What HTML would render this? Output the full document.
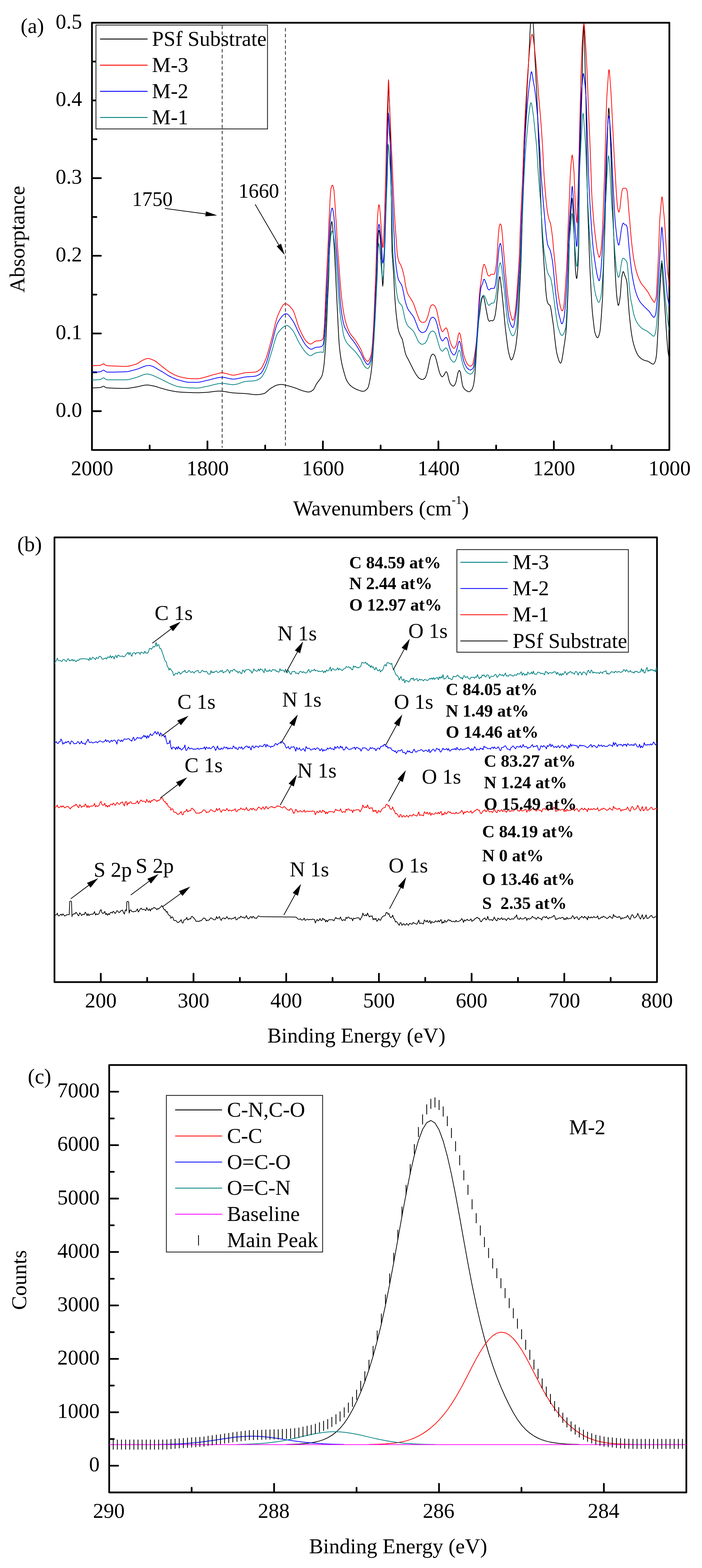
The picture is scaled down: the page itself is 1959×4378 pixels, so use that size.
<!DOCTYPE html>
<html lang="en">
<head>
<meta charset="utf-8">
<title>FTIR and XPS spectra</title>
<style>
html,body{margin:0;padding:0;background:#fff;}
svg{display:block;}
text{font-family:"Liberation Serif",serif;fill:#000;}
</style>
</head>
<body>
<svg width="1959" height="4378" viewBox="0 0 1959 4378">
<rect x="0" y="0" width="1959" height="4378" fill="#fff"/>
<g id="chartA">
<clipPath id="clipA"><rect x="256.6" y="63.5" width="1611.3000000000002" height="1192.9"/></clipPath>
<line x1="620" y1="63.5" x2="620" y2="1250" stroke="#000" stroke-width="1.8" stroke-dasharray="9.7 6.6" stroke-dashoffset="-8"/>
<line x1="796.5" y1="73" x2="796.5" y2="1250" stroke="#000" stroke-width="1.8" stroke-dasharray="9.7 6.6" stroke-dashoffset="-5.1"/>
<text x="257.1" y="1326.5" font-size="59" text-anchor="middle" >2000</text>
<line x1="417.7" y1="1255.8" x2="417.7" y2="1243.9" stroke="#000" stroke-width="4.8" stroke-linecap="round"/>
<line x1="578.9" y1="1255.8" x2="578.9" y2="1232.4" stroke="#000" stroke-width="4.8" stroke-linecap="round"/>
<text x="579.4" y="1326.5" font-size="59" text-anchor="middle" >1800</text>
<line x1="740" y1="1255.8" x2="740" y2="1243.9" stroke="#000" stroke-width="4.8" stroke-linecap="round"/>
<line x1="901.1" y1="1255.8" x2="901.1" y2="1232.4" stroke="#000" stroke-width="4.8" stroke-linecap="round"/>
<text x="901.6" y="1326.5" font-size="59" text-anchor="middle" >1600</text>
<line x1="1062.2" y1="1255.8" x2="1062.2" y2="1243.9" stroke="#000" stroke-width="4.8" stroke-linecap="round"/>
<line x1="1223.4" y1="1255.8" x2="1223.4" y2="1232.4" stroke="#000" stroke-width="4.8" stroke-linecap="round"/>
<text x="1223.9" y="1326.5" font-size="59" text-anchor="middle" >1400</text>
<line x1="1384.5" y1="1255.8" x2="1384.5" y2="1243.9" stroke="#000" stroke-width="4.8" stroke-linecap="round"/>
<line x1="1545.6" y1="1255.8" x2="1545.6" y2="1232.4" stroke="#000" stroke-width="4.8" stroke-linecap="round"/>
<text x="1546.1" y="1326.5" font-size="59" text-anchor="middle" >1200</text>
<line x1="1706.8" y1="1255.8" x2="1706.8" y2="1243.9" stroke="#000" stroke-width="4.8" stroke-linecap="round"/>
<text x="1868.4" y="1326.5" font-size="59" text-anchor="middle" >1000</text>
<line x1="257.2" y1="1148" x2="281.6" y2="1148" stroke="#000" stroke-width="4.8" stroke-linecap="round"/>
<text x="229" y="1164" font-size="59" text-anchor="end" >0.0</text>
<line x1="257.2" y1="1039.5" x2="269.1" y2="1039.5" stroke="#000" stroke-width="4.8" stroke-linecap="round"/>
<line x1="257.2" y1="931.1" x2="281.6" y2="931.1" stroke="#000" stroke-width="4.8" stroke-linecap="round"/>
<text x="229" y="947.1" font-size="59" text-anchor="end" >0.1</text>
<line x1="257.2" y1="822.6" x2="269.1" y2="822.6" stroke="#000" stroke-width="4.8" stroke-linecap="round"/>
<line x1="257.2" y1="714.2" x2="281.6" y2="714.2" stroke="#000" stroke-width="4.8" stroke-linecap="round"/>
<text x="229" y="730.2" font-size="59" text-anchor="end" >0.2</text>
<line x1="257.2" y1="605.8" x2="269.1" y2="605.8" stroke="#000" stroke-width="4.8" stroke-linecap="round"/>
<line x1="257.2" y1="497.3" x2="281.6" y2="497.3" stroke="#000" stroke-width="4.8" stroke-linecap="round"/>
<text x="229" y="513.3" font-size="59" text-anchor="end" >0.3</text>
<line x1="257.2" y1="388.8" x2="269.1" y2="388.8" stroke="#000" stroke-width="4.8" stroke-linecap="round"/>
<line x1="257.2" y1="280.4" x2="281.6" y2="280.4" stroke="#000" stroke-width="4.8" stroke-linecap="round"/>
<text x="229" y="296.4" font-size="59" text-anchor="end" >0.4</text>
<line x1="257.2" y1="171.9" x2="269.1" y2="171.9" stroke="#000" stroke-width="4.8" stroke-linecap="round"/>
<text x="229" y="79.5" font-size="59" text-anchor="end" >0.5</text>
<rect x="256.6" y="63.5" width="1611.3000000000002" height="1192.9" fill="none" stroke="#000" stroke-width="4.8" stroke-linejoin="round"/>
<g clip-path="url(#clipA)">
<polyline points="256,1083 257,1083 258,1083 259,1083 260,1083 261,1083 262,1082.9 263,1082.9 264,1082.9 265,1082.9 266,1082.8 267,1082.8 268,1082.8 269,1082.7 270,1082.7 271,1082.6 272,1082.6 273,1082.5 274,1082.4 275,1082.4 276,1082.3 277,1082.2 278,1082.2 279,1082.1 280,1082 281,1081.8 282,1081.5 283,1081 284,1080.4 285,1079.9 286,1079.4 287,1078.9 288,1078.6 289,1078.5 290,1078.7 291,1079.2 292,1079.9 293,1080.7 294,1081.5 295,1082.1 296,1082.5 297,1082.7 298,1082.8 299,1082.9 300,1083 301,1083.1 302,1083.1 303,1083.2 304,1083.2 305,1083.3 306,1083.3 307,1083.4 308,1083.4 309,1083.5 310,1083.5 311,1083.6 312,1083.6 313,1083.7 314,1083.7 315,1083.8 316,1083.8 317,1083.8 318,1083.9 319,1083.9 320,1083.9 321,1084 322,1084 323,1084.1 324,1084.1 325,1084.1 326,1084.1 327,1084.2 328,1084.2 329,1084.2 330,1084.3 331,1084.3 332,1084.3 333,1084.3 334,1084.3 335,1084.4 336,1084.4 337,1084.4 338,1084.4 339,1084.4 340,1084.4 341,1084.4 342,1084.5 343,1084.5 344,1084.5 345,1084.5 346,1084.5 347,1084.5 348,1084.5 349,1084.5 350,1084.5 351,1084.5 352,1084.5 353,1084.4 354,1084.4 355,1084.3 356,1084.2 357,1084.1 358,1084 359,1083.9 360,1083.8 361,1083.7 362,1083.5 363,1083.4 364,1083.2 365,1083.1 366,1082.9 367,1082.7 368,1082.6 369,1082.4 370,1082.2 371,1082 372,1081.9 373,1081.7 374,1081.5 375,1081.3 376,1081.2 377,1081 378,1080.8 379,1080.7 380,1080.5 381,1080.3 382,1080.2 383,1080 384,1079.8 385,1079.6 386,1079.3 387,1079.1 388,1078.9 389,1078.6 390,1078.4 391,1078.1 392,1077.9 393,1077.7 394,1077.4 395,1077.2 396,1076.9 397,1076.7 398,1076.5 399,1076.3 400,1076.1 401,1075.9 402,1075.7 403,1075.6 404,1075.4 405,1075.3 406,1075.2 407,1075.1 408,1075.1 409,1075 410,1075 411,1075 412,1075 413,1075.1 414,1075.2 415,1075.3 416,1075.4 417,1075.5 418,1075.7 419,1075.8 420,1076 421,1076.2 422,1076.4 423,1076.6 424,1076.8 425,1077 426,1077.2 427,1077.4 428,1077.6 429,1077.8 430,1078 431,1078.2 432,1078.4 433,1078.7 434,1079 435,1079.2 436,1079.5 437,1079.8 438,1080.2 439,1080.5 440,1080.8 441,1081.1 442,1081.5 443,1081.8 444,1082.1 445,1082.5 446,1082.8 447,1083.1 448,1083.4 449,1083.7 450,1084 451,1084.3 452,1084.6 453,1084.8 454,1085.1 455,1085.4 456,1085.7 457,1086 458,1086.3 459,1086.5 460,1086.8 461,1087.1 462,1087.4 463,1087.6 464,1087.9 465,1088.2 466,1088.4 467,1088.7 468,1088.9 469,1089.2 470,1089.4 471,1089.6 472,1089.9 473,1090.1 474,1090.3 475,1090.5 476,1090.7 477,1090.9 478,1091.1 479,1091.3 480,1091.5 481,1091.7 482,1091.9 483,1092.1 484,1092.3 485,1092.4 486,1092.6 487,1092.8 488,1093 489,1093.1 490,1093.3 491,1093.4 492,1093.6 493,1093.7 494,1093.9 495,1094 496,1094.1 497,1094.2 498,1094.3 499,1094.4 500,1094.5 501,1094.6 502,1094.6 503,1094.7 504,1094.8 505,1094.9 506,1094.9 507,1095 508,1095 509,1095.1 510,1095.2 511,1095.2 512,1095.3 513,1095.3 514,1095.4 515,1095.4 516,1095.5 517,1095.5 518,1095.6 519,1095.6 520,1095.6 521,1095.7 522,1095.7 523,1095.8 524,1095.8 525,1095.8 526,1095.9 527,1095.9 528,1095.9 529,1096 530,1096 531,1096 532,1096.1 533,1096.1 534,1096.1 535,1096.2 536,1096.2 537,1096.2 538,1096.3 539,1096.3 540,1096.3 541,1096.4 542,1096.4 543,1096.4 544,1096.4 545,1096.5 546,1096.5 547,1096.5 548,1096.5 549,1096.5 550,1096.5 551,1096.5 552,1096.5 553,1096.5 554,1096.5 555,1096.4 556,1096.4 557,1096.4 558,1096.4 559,1096.3 560,1096.3 561,1096.3 562,1096.2 563,1096.2 564,1096.1 565,1096.1 566,1096 567,1096 568,1095.9 569,1095.9 570,1095.8 571,1095.8 572,1095.7 573,1095.7 574,1095.6 575,1095.6 576,1095.5 577,1095.4 578,1095.4 579,1095.3 580,1095.2 581,1095.1 582,1095 583,1094.9 584,1094.8 585,1094.7 586,1094.5 587,1094.4 588,1094.3 589,1094.1 590,1094 591,1093.9 592,1093.7 593,1093.6 594,1093.4 595,1093.3 596,1093.2 597,1093 598,1092.9 599,1092.8 600,1092.7 601,1092.6 602,1092.5 603,1092.4 604,1092.3 605,1092.2 606,1092.2 607,1092.1 608,1092.1 609,1092 610,1092 611,1092 612,1092 613,1092 614,1092.1 615,1092.1 616,1092.2 617,1092.3 618,1092.3 619,1092.4 620,1092.5 621,1092.6 622,1092.7 623,1092.8 624,1092.9 625,1093 626,1093.2 627,1093.3 628,1093.4 629,1093.6 630,1093.8 631,1093.9 632,1094.1 633,1094.3 634,1094.5 635,1094.6 636,1094.8 637,1095 638,1095.2 639,1095.3 640,1095.5 641,1095.7 642,1095.8 643,1096 644,1096.2 645,1096.3 646,1096.4 647,1096.6 648,1096.7 649,1096.8 650,1096.9 651,1097 652,1097.1 653,1097.2 654,1097.2 655,1097.3 656,1097.4 657,1097.4 658,1097.5 659,1097.6 660,1097.6 661,1097.7 662,1097.7 663,1097.8 664,1097.8 665,1097.9 666,1097.9 667,1098 668,1098 669,1098.1 670,1098.1 671,1098.2 672,1098.2 673,1098.3 674,1098.3 675,1098.3 676,1098.4 677,1098.4 678,1098.5 679,1098.6 680,1098.6 681,1098.7 682,1098.7 683,1098.8 684,1098.9 685,1098.9 686,1099 687,1099.1 688,1099.2 689,1099.3 690,1099.4 691,1099.5 692,1099.6 693,1099.7 694,1099.8 695,1100 696,1100.1 697,1100.2 698,1100.4 699,1100.5 700,1100.6 701,1100.8 702,1100.9 703,1101 704,1101.2 705,1101.3 706,1101.4 707,1101.5 708,1101.6 709,1101.7 710,1101.8 711,1101.8 712,1101.9 713,1101.9 714,1102 715,1102 716,1102 717,1102 718,1102 719,1101.9 720,1101.8 721,1101.8 722,1101.7 723,1101.6 724,1101.4 725,1101.3 726,1101.1 727,1101 728,1100.8 729,1100.6 730,1100.4 731,1100.2 732,1100 733,1099.7 734,1099.5 735,1099.2 736,1099 737,1098.7 738,1098.3 739,1097.8 740,1097.2 741,1096.5 742,1095.8 743,1095 744,1094.1 745,1093.2 746,1092.3 747,1091.4 748,1090.5 749,1089.5 750,1088.6 751,1087.7 752,1086.9 753,1086.1 754,1085.3 755,1084.6 756,1084 757,1083.4 758,1082.8 759,1082.2 760,1081.6 761,1081 762,1080.4 763,1079.8 764,1079.3 765,1078.7 766,1078.2 767,1077.7 768,1077.2 769,1076.7 770,1076.3 771,1075.9 772,1075.5 773,1075.2 774,1074.9 775,1074.7 776,1074.5 777,1074.3 778,1074.2 779,1074.1 780,1073.9 781,1073.8 782,1073.7 783,1073.6 784,1073.6 785,1073.5 786,1073.5 787,1073.5 788,1073.6 789,1073.7 790,1073.8 791,1074 792,1074.2 793,1074.4 794,1074.7 795,1074.9 796,1075.2 797,1075.5 798,1075.7 799,1076 800,1076.3 801,1076.5 802,1076.7 803,1077 804,1077.2 805,1077.5 806,1077.8 807,1078 808,1078.3 809,1078.6 810,1078.9 811,1079.2 812,1079.5 813,1079.8 814,1080.1 815,1080.4 816,1080.7 817,1081 818,1081.4 819,1081.7 820,1082 821,1082.3 822,1082.7 823,1083 824,1083.3 825,1083.7 826,1084 827,1084.3 828,1084.7 829,1085.1 830,1085.5 831,1085.9 832,1086.3 833,1086.7 834,1087.1 835,1087.5 836,1087.9 837,1088.4 838,1088.8 839,1089.2 840,1089.5 841,1089.9 842,1090.3 843,1090.6 844,1090.9 845,1091.2 846,1091.5 847,1091.8 848,1092 849,1092.3 850,1092.6 851,1092.8 852,1093.1 853,1093.4 854,1093.6 855,1093.8 856,1094 857,1094.2 858,1094.3 859,1094.4 860,1094.5 861,1094.5 862,1094.5 863,1094.3 864,1094.1 865,1093.8 866,1093.4 867,1093 868,1092.5 869,1092 870,1091.4 871,1090.7 872,1090.1 873,1089.4 874,1088.6 875,1087.4 876,1086 877,1084.2 878,1082.3 879,1080.2 880,1078.1 881,1076 882,1074.1 883,1072.3 884,1070.8 885,1069.4 886,1068.1 887,1066.8 888,1065.5 889,1064.3 890,1062.9 891,1061.5 892,1060.1 893,1058.7 894,1057.4 895,1055.9 896,1054.3 897,1052.4 898,1050.2 899,1047.6 900,1043.9 901,1039.3 902,1033.8 903,1027.4 904,1020.1 905,1010.6 906,999 907,985.8 908,971.4 909,956.1 910,938 911,917.5 912,893.2 913,865.2 914,840.5 915,821.3 916,803.7 917,783.4 918,753.7 919,711.2 920,687.4 921,671.6 922,655 923,639.1 924,627.9 925,620.5 926,618.5 927,622.8 928,630 929,641.2 930,655 931,667.1 932,680 933,696 934,715.1 935,735.8 936,756 937,776 938,796 939,816 940,836 941,856.2 942,876.7 943,897.1 944,917 945,937.4 946,954 947,965.8 948,976 949,984.7 950,992.3 951,999 952,1005 953,1010.4 954,1015.4 955,1020 956,1024.3 957,1028.3 958,1032.1 959,1035.8 960,1039.5 961,1043.1 962,1046.5 963,1049.8 964,1053 965,1055.9 966,1058.6 967,1061 968,1063.1 969,1064.9 970,1066.5 971,1068 972,1069.5 973,1070.8 974,1072.1 975,1073.3 976,1074.4 977,1075.5 978,1076.4 979,1077.3 980,1078.2 981,1079 982,1079.8 983,1080.5 984,1081.2 985,1081.9 986,1082.5 987,1083.1 988,1083.7 989,1084.3 990,1084.8 991,1085.3 992,1085.8 993,1086.3 994,1086.7 995,1087.1 996,1087.5 997,1087.9 998,1088.3 999,1088.7 1000,1089.1 1001,1089.5 1002,1089.9 1003,1090.2 1004,1090.6 1005,1090.9 1006,1091.2 1007,1091.5 1008,1091.8 1009,1092 1010,1092.2 1011,1092.3 1012,1092.4 1013,1092.5 1014,1092.5 1015,1092.4 1016,1092.1 1017,1091.7 1018,1091.3 1019,1090.7 1020,1090 1021,1089.2 1022,1088.3 1023,1087.4 1024,1086.3 1025,1085.2 1026,1084 1027,1082.2 1028,1079.5 1029,1076 1030,1071.9 1031,1067.2 1032,1062.1 1033,1056.7 1034,1051.1 1035,1044.6 1036,1036.9 1037,1028.4 1038,1019 1039,1008.7 1040,996.9 1041,983.6 1042,969.1 1043,953.6 1044,937.3 1045,920.5 1046,903.2 1047,884.4 1048,864.3 1049,843.1 1050,821 1051,800.5 1052,780.5 1053,755.7 1054,721 1055,665.7 1056,649.9 1057,643.4 1058,643.2 1059,648 1060,655 1061,665.5 1062,680 1063,698.6 1064,720 1065,743 1066,765 1067,786.8 1068,799 1069,791.4 1070,774.4 1071,754.4 1072,726.6 1073,696 1074,665.9 1075,634.1 1076,600 1077,562.8 1078,522.7 1079,480 1080,433.3 1081,384.1 1082,333.1 1083,273 1084,234.5 1085,243.5 1086,270 1087,288.1 1088,319.9 1089,381.3 1090,458.8 1091,526.7 1092,555 1093,641.9 1094,702 1095,718.3 1096,730 1097,744.4 1098,759 1099,775.5 1100,796.3 1101,816.7 1102,832.8 1103,847.1 1104,859.9 1105,871 1106,880.2 1107,888.2 1108,896 1109,904.5 1110,912 1111,917.7 1112,921.9 1113,925.5 1114,928.6 1115,931.3 1116,933.9 1117,936.3 1118,938.6 1119,940.5 1120,942.2 1121,944 1122,946.2 1123,949.1 1124,953.1 1125,957.8 1126,962.9 1127,967.8 1128,972.2 1129,976.6 1130,980.9 1131,985 1132,988.5 1133,991.3 1134,993.7 1135,995.8 1136,997.7 1137,999.5 1138,1001.3 1139,1003.1 1140,1005 1141,1007 1142,1009 1143,1011 1144,1013 1145,1015 1146,1017 1147,1019 1148,1021 1149,1023 1150,1025.1 1151,1027.2 1152,1029.2 1153,1031.2 1154,1033.1 1155,1035 1156,1036.8 1157,1038.6 1158,1040.4 1159,1042.1 1160,1043.7 1161,1045.3 1162,1046.8 1163,1048.2 1164,1049.6 1165,1051 1166,1052.3 1167,1053.5 1168,1054.6 1169,1055.6 1170,1056.2 1171,1056.8 1172,1057.4 1173,1057.9 1174,1058.3 1175,1058.7 1176,1059.1 1177,1059.3 1178,1059.5 1179,1059.5 1180,1059.3 1181,1059 1182,1058.5 1183,1057.9 1184,1057.1 1185,1056.2 1186,1055.3 1187,1054 1188,1052 1189,1049.4 1190,1046.5 1191,1043.3 1192,1039.8 1193,1035.6 1194,1030.9 1195,1026 1196,1021.2 1197,1016.4 1198,1011.3 1199,1006.5 1200,1002.5 1201,999.2 1202,996.2 1203,993.8 1204,992.2 1205,990.9 1206,989.8 1207,989 1208,988.8 1209,988.9 1210,989.5 1211,990.4 1212,991.5 1213,992.7 1214,994.1 1215,996.5 1216,999.7 1217,1003.3 1218,1006.8 1219,1010.6 1220,1014.8 1221,1019 1222,1023.1 1223,1026.9 1224,1030.8 1225,1034.7 1226,1038.3 1227,1041.3 1228,1043.6 1229,1045.7 1230,1047.8 1231,1049.6 1232,1050.9 1233,1051.8 1234,1052 1235,1051.6 1236,1050.7 1237,1049.6 1238,1048.4 1239,1047.2 1240,1045.6 1241,1043.7 1242,1041.6 1243,1039.8 1244,1038.5 1245,1038 1246,1038.6 1247,1040 1248,1042.1 1249,1044.4 1250,1048.3 1251,1053.4 1252,1058.1 1253,1061.6 1254,1064.7 1255,1067.5 1256,1069.9 1257,1071.8 1258,1073.1 1259,1074.2 1260,1075.2 1261,1076.1 1262,1076.9 1263,1077.5 1264,1077.9 1265,1078 1266,1077.7 1267,1076.9 1268,1075.8 1269,1074.2 1270,1072.5 1271,1070.5 1272,1068 1273,1064.1 1274,1059.5 1275,1055 1276,1050.3 1277,1045.3 1278,1040.9 1279,1038.2 1280,1036.3 1281,1034.9 1282,1034.5 1283,1035.5 1284,1037.5 1285,1040 1286,1045.1 1287,1052.8 1288,1060 1289,1066.2 1290,1072.2 1291,1076.7 1292,1079.4 1293,1081.5 1294,1083.3 1295,1084.7 1296,1086 1297,1087.1 1298,1088 1299,1088.9 1300,1089.7 1301,1090.4 1302,1091 1303,1091.5 1304,1092.1 1305,1092.6 1306,1093.1 1307,1093.5 1308,1093.7 1309,1093.7 1310,1093.5 1311,1093.1 1312,1092.5 1313,1091.8 1314,1090.9 1315,1090 1316,1088.8 1317,1087.2 1318,1085.2 1319,1082.8 1320,1080 1321,1076.3 1322,1071.4 1323,1065.3 1324,1058 1325,1047.9 1326,1035.7 1327,1022.1 1328,1006.6 1329,991.2 1330,976.2 1331,961.2 1332,945.9 1333,930.5 1334,916.8 1335,905 1336,895.6 1337,887.8 1338,880.6 1339,873 1340,864.3 1341,855.6 1342,848 1343,842.4 1344,837.6 1345,833.6 1346,830.6 1347,828.4 1348,827.1 1349,827.8 1350,830.5 1351,834.1 1352,838.1 1353,843.4 1354,849.3 1355,855 1356,860.4 1357,865.8 1358,871.2 1359,876.3 1360,881.7 1361,886.9 1362,891.1 1363,893.6 1364,895.6 1365,896.8 1366,896.9 1367,896.5 1368,895.8 1369,895.3 1370,895 1371,895.1 1372,895.4 1373,895.7 1374,895.7 1375,895.5 1376,894.9 1377,894.2 1378,893.1 1379,890.8 1380,887.5 1381,883.5 1382,878.9 1383,872.6 1384,865.3 1385,857.5 1386,848.6 1387,838.3 1388,827.8 1389,818 1390,807.9 1391,796.8 1392,786.2 1393,777.7 1394,772.7 1395,772.7 1396,777.5 1397,785.3 1398,793.9 1399,802.1 1400,811.3 1401,820.7 1402,830.4 1403,840.2 1404,850.3 1405,860.5 1406,871.2 1407,882.3 1408,893.4 1409,904.1 1410,914 1411,922.9 1412,931.1 1413,938.9 1414,946.9 1415,955 1416,962.8 1417,970 1418,976.4 1419,981.8 1420,986 1421,990 1422,993.9 1423,997.5 1424,1000.5 1425,1002.9 1426,1004.4 1427,1005 1428,1004.6 1429,1003.6 1430,1001.9 1431,999.7 1432,997 1433,993.9 1434,990.5 1435,986.8 1436,983 1437,979 1438,974.4 1439,968.8 1440,962.1 1441,954.4 1442,945.7 1443,936 1444,925.5 1445,914 1446,899.4 1447,880.5 1448,859.1 1449,837 1450,815.9 1451,796 1452,775.7 1453,753.8 1454,728.7 1455,698 1456,666.4 1457,633.8 1458,600 1459,563.6 1460,525.6 1461,490.1 1462,459.2 1463,430.6 1464,403.8 1465,378.4 1466,353.9 1467,330.5 1468,308 1469,286.6 1470,266 1471,246.6 1472,228.2 1473,210.4 1474,192.7 1475,174.5 1476,155.1 1477,134.4 1478,113.2 1479,92.4 1480,72.9 1481,54.8 1482,34.7 1483,17.3 1484,8.3 1485,12.2 1486,26.2 1487,45.2 1488,64 1489,82.1 1490,102 1491,123 1492,144.3 1493,165 1494,184.8 1495,204.2 1496,223.8 1497,244.2 1498,266 1499,290.4 1500,316 1501,341 1502,366.1 1503,391 1504,415.3 1505,439.1 1506,463.7 1507,490.3 1508,519.5 1509,551.3 1510,582 1511,609 1512,633.5 1513,654.6 1514,673 1515,689.8 1516,705.9 1517,720.8 1518,735.5 1519,750.6 1520,765.7 1521,780.4 1522,795.8 1523,809.8 1524,820.2 1525,828.7 1526,835.9 1527,841.2 1528,844.4 1529,846.6 1530,848.4 1531,849.7 1532,850.7 1533,851.3 1534,851.9 1535,853 1536,855.8 1537,860.5 1538,865.7 1539,872 1540,879.1 1541,886.3 1542,893 1543,899.5 1544,906.3 1545,914 1546,923.7 1547,934.3 1548,943.3 1549,951.9 1550,960.2 1551,968.2 1552,975.4 1553,981.7 1554,986.9 1555,990.9 1556,994.6 1557,998.3 1558,1001.7 1559,1004.8 1560,1007.6 1561,1010 1562,1011.9 1563,1013.2 1564,1013.9 1565,1013.8 1566,1012.2 1567,1009.2 1568,1005 1569,999.8 1570,994 1571,987.5 1572,980.8 1573,974 1574,967.2 1575,960.8 1576,954.3 1577,947.3 1578,939.4 1579,930.4 1580,919.9 1581,906.9 1582,888.2 1583,865.7 1584,842.1 1585,817.3 1586,789 1587,753.6 1588,709.5 1589,673.9 1590,643.8 1591,622.2 1592,605.8 1593,591.9 1594,578.5 1595,563.2 1596,553.3 1597,556.7 1598,570.3 1599,585.9 1600,604.6 1601,626.4 1602,650 1603,676.4 1604,705.5 1605,737.8 1606,754.5 1607,765.7 1608,773.9 1609,777.8 1610,775.7 1611,767 1612,754.7 1613,741 1614,722 1615,688.4 1616,600 1617,482 1618,444 1619,416 1620,378.1 1621,341 1622,311.3 1623,282.8 1624,245.1 1625,194.8 1626,150 1627,112.5 1628,81.4 1629,73.3 1630,89.8 1631,117.8 1632,153.6 1633,195.5 1634,233.2 1635,266 1636,345.8 1637,419.1 1638,482 1639,535.4 1640,574.7 1641,604 1642,632 1643,662.8 1644,692.5 1645,718.7 1646,742.4 1647,763.9 1648,783.8 1649,802.7 1650,822.1 1651,840.8 1652,857.2 1653,869.9 1654,880.4 1655,889.5 1656,897.9 1657,906.5 1658,915.3 1659,922.9 1660,928 1661,931.3 1662,934.3 1663,936.9 1664,939.2 1665,941 1666,942.2 1667,942.9 1668,942.9 1669,941.9 1670,940.2 1671,937.7 1672,934.6 1673,931 1674,926.8 1675,919.4 1676,908.8 1677,896.7 1678,883.9 1679,868.6 1680,853 1681,839.5 1682,821 1683,787.9 1684,754.3 1685,724.2 1686,694.5 1687,665.1 1688,635.8 1689,603.4 1690,565.7 1691,525.3 1692,482.7 1693,445 1694,410.8 1695,381.6 1696,351.6 1697,324.5 1698,306.1 1699,301.7 1700,310.5 1701,328.3 1702,351.7 1703,377.3 1704,402.2 1705,431.6 1706,463.4 1707,493.8 1708,524.2 1709,552.9 1710,579 1711,605.1 1712,634.4 1713,665.6 1714,693.5 1715,718.6 1716,741.7 1717,762 1718,780.7 1719,798.3 1720,813.8 1721,825.7 1722,834.4 1723,842.4 1724,848.8 1725,852.5 1726,852.7 1727,850.1 1728,845.6 1729,839.7 1730,832.9 1731,825.5 1732,813.4 1733,798.3 1734,784 1735,774.5 1736,768.8 1737,763.8 1738,760.1 1739,758.3 1740,758.8 1741,761 1742,764 1743,767.3 1744,770.1 1745,772.5 1746,775 1747,777.8 1748,781.3 1749,785.8 1750,792 1751,803.8 1752,820.1 1753,835.6 1754,851.4 1755,865.5 1756,876.9 1757,887 1758,896.3 1759,905.2 1760,914 1761,922.3 1762,929.7 1763,936 1764,941.7 1765,946.9 1766,951.7 1767,956 1768,959.9 1769,963.6 1770,967.1 1771,970.3 1772,973.3 1773,976.1 1774,978.6 1775,981 1776,983.3 1777,985.5 1778,987.6 1779,989.4 1780,991.2 1781,992.7 1782,994 1783,995.2 1784,996.4 1785,997.5 1786,998.5 1787,999.4 1788,1000.3 1789,1001 1790,1001.8 1791,1002.4 1792,1003 1793,1003.6 1794,1004.2 1795,1004.7 1796,1005.2 1797,1005.6 1798,1006 1799,1006.4 1800,1006.8 1801,1007 1802,1007.3 1803,1007.5 1804,1007.7 1805,1007.8 1806,1008.1 1807,1008.3 1808,1008.7 1809,1009.2 1810,1009.7 1811,1010.4 1812,1011.1 1813,1011.8 1814,1012.4 1815,1013 1816,1013.6 1817,1014.2 1818,1014.8 1819,1015.4 1820,1015.9 1821,1016.4 1822,1016.6 1823,1016.8 1824,1016.4 1825,1015.4 1826,1014 1827,1012.1 1828,1009.8 1829,1007.3 1830,1003.4 1831,997.8 1832,990.5 1833,978.5 1834,961.7 1835,943.9 1836,923.7 1837,903 1838,883.1 1839,863.1 1840,842.5 1841,822.2 1842,803.7 1843,786.4 1844,770.5 1845,753 1846,738.6 1847,735.1 1848,747.3 1849,766.2 1850,781.6 1851,795.6 1852,809.6 1853,823.7 1854,838.2 1855,853 1856,867.9 1857,882.9 1858,898.2 1859,914.4 1860,930.3 1861,944.8 1862,957.6 1863,970 1864,980.6 1865,988 1866,993.2 1867,997.8 1868,1001.6 1869,1004.1 1870,1005" fill="none" stroke="#000" stroke-width="2.0" stroke-linejoin="round" />
<polyline points="256,1021 257,1021 258,1021 259,1021 260,1021 261,1021 262,1020.9 263,1020.9 264,1020.9 265,1020.9 266,1020.8 267,1020.8 268,1020.8 269,1020.7 270,1020.7 271,1020.6 272,1020.6 273,1020.5 274,1020.5 275,1020.4 276,1020.3 277,1020.2 278,1020.2 279,1020.1 280,1020 281,1019.8 282,1019.4 283,1018.8 284,1018.2 285,1017.6 286,1017 287,1016.5 288,1016.1 289,1016 290,1016.2 291,1016.8 292,1017.7 293,1018.6 294,1019.5 295,1020.2 296,1020.5 297,1020.6 298,1020.7 299,1020.9 300,1021 301,1021.1 302,1021.1 303,1021.2 304,1021.3 305,1021.4 306,1021.4 307,1021.5 308,1021.5 309,1021.6 310,1021.6 311,1021.7 312,1021.7 313,1021.7 314,1021.8 315,1021.8 316,1021.8 317,1021.9 318,1021.9 319,1022 320,1022 321,1022 322,1022.1 323,1022.1 324,1022.2 325,1022.2 326,1022.3 327,1022.3 328,1022.4 329,1022.4 330,1022.5 331,1022.5 332,1022.5 333,1022.6 334,1022.6 335,1022.7 336,1022.7 337,1022.7 338,1022.8 339,1022.8 340,1022.8 341,1022.9 342,1022.9 343,1022.9 344,1022.9 345,1023 346,1023 347,1023 348,1023 349,1023 350,1023 351,1023 352,1023 353,1022.9 354,1022.8 355,1022.7 356,1022.6 357,1022.5 358,1022.4 359,1022.2 360,1022 361,1021.8 362,1021.6 363,1021.4 364,1021.2 365,1021 366,1020.7 367,1020.5 368,1020.2 369,1019.9 370,1019.6 371,1019.3 372,1019 373,1018.7 374,1018.4 375,1018.1 376,1017.8 377,1017.5 378,1017.1 379,1016.8 380,1016.5 381,1016.1 382,1015.7 383,1015.3 384,1014.7 385,1014.2 386,1013.6 387,1012.9 388,1012.3 389,1011.6 390,1010.9 391,1010.3 392,1009.6 393,1008.9 394,1008.3 395,1007.6 396,1007 397,1006.4 398,1005.9 399,1005.4 400,1005 401,1004.6 402,1004.2 403,1003.7 404,1003.3 405,1002.9 406,1002.5 407,1002.1 408,1001.8 409,1001.5 410,1001.3 411,1001.1 412,1001 413,1001 414,1001.1 415,1001.2 416,1001.3 417,1001.5 418,1001.8 419,1002 420,1002.4 421,1002.7 422,1003.1 423,1003.5 424,1003.9 425,1004.3 426,1004.7 427,1005.2 428,1005.6 429,1006.1 430,1006.5 431,1007 432,1007.5 433,1008.1 434,1008.7 435,1009.4 436,1010.1 437,1010.8 438,1011.6 439,1012.4 440,1013.2 441,1014.1 442,1014.9 443,1015.8 444,1016.6 445,1017.5 446,1018.3 447,1019.1 448,1020 449,1020.7 450,1021.5 451,1022.3 452,1023 453,1023.8 454,1024.6 455,1025.4 456,1026.1 457,1026.9 458,1027.7 459,1028.5 460,1029.3 461,1030.1 462,1030.9 463,1031.7 464,1032.5 465,1033.2 466,1034 467,1034.7 468,1035.5 469,1036.2 470,1036.9 471,1037.5 472,1038.2 473,1038.8 474,1039.4 475,1040 476,1040.6 477,1041.1 478,1041.7 479,1042.2 480,1042.8 481,1043.3 482,1043.9 483,1044.4 484,1044.9 485,1045.5 486,1046 487,1046.5 488,1046.9 489,1047.4 490,1047.9 491,1048.3 492,1048.7 493,1049.1 494,1049.5 495,1049.9 496,1050.3 497,1050.6 498,1050.9 499,1051.2 500,1051.5 501,1051.8 502,1052 503,1052.3 504,1052.5 505,1052.8 506,1053.1 507,1053.3 508,1053.5 509,1053.8 510,1054 511,1054.2 512,1054.5 513,1054.7 514,1054.9 515,1055.1 516,1055.3 517,1055.5 518,1055.6 519,1055.8 520,1056 521,1056.1 522,1056.3 523,1056.4 524,1056.5 525,1056.6 526,1056.7 527,1056.8 528,1056.9 529,1057 530,1057 531,1057 532,1057.1 533,1057.1 534,1057.2 535,1057.2 536,1057.2 537,1057.3 538,1057.3 539,1057.3 540,1057.4 541,1057.4 542,1057.4 543,1057.4 544,1057.4 545,1057.5 546,1057.5 547,1057.5 548,1057.5 549,1057.5 550,1057.5 551,1057.5 552,1057.4 553,1057.4 554,1057.3 555,1057.2 556,1057 557,1056.9 558,1056.7 559,1056.5 560,1056.3 561,1056 562,1055.8 563,1055.5 564,1055.3 565,1055 566,1054.7 567,1054.5 568,1054.2 569,1053.9 570,1053.6 571,1053.3 572,1053.1 573,1052.8 574,1052.5 575,1052.3 576,1052 577,1051.7 578,1051.5 579,1051.2 580,1050.9 581,1050.6 582,1050.3 583,1050 584,1049.7 585,1049.4 586,1049.1 587,1048.8 588,1048.5 589,1048.2 590,1047.8 591,1047.5 592,1047.2 593,1046.9 594,1046.6 595,1046.3 596,1046 597,1045.8 598,1045.5 599,1045.2 600,1045 601,1044.8 602,1044.5 603,1044.2 604,1044 605,1043.7 606,1043.4 607,1043.2 608,1042.9 609,1042.7 610,1042.4 611,1042.2 612,1042 613,1041.8 614,1041.6 615,1041.4 616,1041.3 617,1041.2 618,1041.1 619,1041 620,1041 621,1041 622,1041.1 623,1041.2 624,1041.4 625,1041.5 626,1041.8 627,1042 628,1042.2 629,1042.5 630,1042.8 631,1043 632,1043.3 633,1043.5 634,1043.8 635,1044 636,1044.2 637,1044.5 638,1044.7 639,1045 640,1045.3 641,1045.6 642,1045.9 643,1046.2 644,1046.4 645,1046.7 646,1046.9 647,1047.1 648,1047.3 649,1047.4 650,1047.5 651,1047.5 652,1047.5 653,1047.4 654,1047.3 655,1047.2 656,1047.1 657,1046.9 658,1046.8 659,1046.6 660,1046.3 661,1046.1 662,1045.9 663,1045.6 664,1045.4 665,1045.1 666,1044.9 667,1044.7 668,1044.4 669,1044.2 670,1044 671,1043.8 672,1043.6 673,1043.3 674,1043.1 675,1042.8 676,1042.6 677,1042.3 678,1042 679,1041.8 680,1041.6 681,1041.3 682,1041.1 683,1040.9 684,1040.8 685,1040.6 686,1040.5 687,1040.4 688,1040.3 689,1040.2 690,1040.2 691,1040.1 692,1040.1 693,1040 694,1040 695,1039.9 696,1039.9 697,1039.9 698,1039.8 699,1039.8 700,1039.7 701,1039.7 702,1039.7 703,1039.6 704,1039.6 705,1039.5 706,1039.4 707,1039.4 708,1039.3 709,1039.2 710,1039.1 711,1039 712,1038.9 713,1038.6 714,1038.4 715,1038.1 716,1037.7 717,1037.2 718,1036.8 719,1036.2 720,1035.7 721,1035.1 722,1034.4 723,1033.7 724,1033 725,1032.3 726,1031.5 727,1030.6 728,1029.5 729,1028.3 730,1026.8 731,1025.3 732,1023.5 733,1021.7 734,1019.7 735,1017.7 736,1015.5 737,1013.3 738,1011 739,1008.7 740,1006.4 741,1004 742,1001.5 743,998.8 744,995.9 745,992.9 746,989.7 747,986.4 748,982.9 749,979.4 750,975.8 751,972.2 752,968.5 753,964.8 754,961.2 755,957.6 756,954 757,950.4 758,946.6 759,942.7 760,938.6 761,934.4 762,930.2 763,926 764,921.7 765,917.4 766,913.2 767,909 768,905 769,901 770,897.2 771,893.6 772,890.2 773,887 774,884 775,881.4 776,879 777,876.8 778,874.6 779,872.4 780,870.2 781,868 782,865.9 783,863.8 784,861.8 785,859.8 786,858 787,856.3 788,854.7 789,853.2 790,851.9 791,850.8 792,849.8 793,849 794,848.5 795,848.1 796,848 797,848.1 798,848.2 799,848.5 800,848.9 801,849.3 802,849.9 803,850.5 804,851.3 805,852 806,852.9 807,853.8 808,854.8 809,855.8 810,856.9 811,858 812,859.2 813,860.3 814,861.5 815,862.8 816,864 817,865.4 818,867.2 819,869.2 820,871.5 821,874.1 822,876.8 823,879.8 824,882.8 825,886 826,889.3 827,892.5 828,895.9 829,899.2 830,902.4 831,905.6 832,908.6 833,911.5 834,914.2 835,916.7 836,919 837,921.1 838,923.3 839,925.4 840,927.5 841,929.6 842,931.7 843,933.8 844,935.7 845,937.7 846,939.6 847,941.4 848,943.2 849,944.9 850,946.5 851,948 852,949.4 853,950.7 854,951.9 855,953 856,954 857,954.9 858,955.8 859,956.7 860,957.6 861,958.4 862,959.1 863,959.7 864,960.1 865,960.4 866,960.5 867,960.4 868,960.2 869,959.8 870,959.3 871,958.7 872,958 873,957.3 874,956.5 875,955.8 876,955 877,954.4 878,953.7 879,953.2 880,952.8 881,952.5 882,952.3 883,952.1 884,952 885,951.9 886,951.8 887,951.7 888,951.6 889,951.6 890,951.5 891,951.4 892,951.3 893,951.1 894,950.9 895,950.7 896,950.5 897,950.1 898,949.5 899,948.7 900,947.5 901,945.9 902,944 903,937.9 904,926.2 905,912 906,893.5 907,869.9 908,846 909,822.8 910,799.2 911,776.4 912,755.4 913,735.6 914,716.1 915,696 916,674.2 917,646.7 918,619 919,600 920,580 921,559.5 922,542 923,530 924,525.1 925,521.3 926,518.6 927,517.2 928,517.2 929,518.9 930,522 931,526.2 932,531.7 933,544.1 934,558.4 935,572.5 936,588.2 937,605 938,618.9 939,634.6 940,655 941,671.9 942,688.2 943,703.2 944,716.8 945,729.7 946,742.7 947,756.2 948,770.1 949,783.6 950,796 951,807.3 952,818.2 953,828.4 954,837.8 955,846 956,853.4 957,860.4 958,867 959,873.1 960,878.8 961,884.1 962,888.8 963,893.1 964,897 965,900.6 966,903.9 967,907 968,909.9 969,912.7 970,915.4 971,918 972,920.5 973,922.9 974,925.1 975,927.1 976,929 977,930.7 978,932.3 979,933.7 980,935.1 981,936.4 982,937.7 983,938.9 984,940.1 985,941.3 986,942.5 987,943.7 988,944.9 989,946.2 990,947.6 991,949 992,950.5 993,952 994,953.5 995,955.1 996,956.7 997,958.3 998,959.9 999,961.5 1000,963.2 1001,964.9 1002,966.7 1003,968.5 1004,970.3 1005,972.1 1006,974 1007,976 1008,978.2 1009,980.6 1010,983 1011,985.5 1012,988 1013,990.5 1014,992.9 1015,995.2 1016,997.3 1017,999.2 1018,1000.8 1019,1002.2 1020,1003.6 1021,1004.9 1022,1006.2 1023,1007.3 1024,1008.2 1025,1008.8 1026,1009 1027,1008.8 1028,1008.1 1029,1007 1030,1005.4 1031,1003.5 1032,1001.2 1033,998.6 1034,995.7 1035,992.5 1036,989 1037,983.7 1038,975.2 1039,964 1040,950.8 1041,936 1042,920.2 1043,902.9 1044,880.2 1045,854.1 1046,827.4 1047,803.1 1048,780.3 1049,754.4 1050,721 1051,670.5 1052,641.7 1053,618.8 1054,601.7 1055,588.9 1056,578.4 1057,572.1 1058,571.9 1059,577 1060,585.6 1061,596.4 1062,608.3 1063,625.9 1064,641.2 1065,655 1066,668.4 1067,680 1068,690.4 1069,690.6 1070,678.3 1071,659.8 1072,636.3 1073,605 1074,572.6 1075,534.5 1076,498.5 1077,467.9 1078,406.6 1079,366.9 1080,334.4 1081,306.5 1082,280 1083,247.2 1084,222.6 1085,232.4 1086,265.1 1087,292.2 1088,315.8 1089,338.7 1090,361.2 1091,383.4 1092,405.2 1093,426.6 1094,447.4 1095,468.7 1096,492.3 1097,517.5 1098,539.4 1099,560.2 1100,581.1 1101,600.6 1102,617.2 1103,632 1104,645.9 1105,658.5 1106,671.4 1107,688.1 1108,701.9 1109,711 1110,717.4 1111,722.7 1112,726.9 1113,729.9 1114,732.3 1115,734.2 1116,735.9 1117,737.6 1118,739.4 1119,741.6 1120,744 1121,746.6 1122,749.5 1123,752.6 1124,756.1 1125,760 1126,764.2 1127,768.6 1128,773.6 1129,779.6 1130,786.2 1131,792.7 1132,798.6 1133,803.2 1134,807.4 1135,811.3 1136,814.8 1137,817.7 1138,820.2 1139,822.2 1140,824.1 1141,825.7 1142,827.3 1143,828.8 1144,830.3 1145,832 1146,833.7 1147,835.4 1148,837 1149,838.6 1150,840.3 1151,842.1 1152,843.9 1153,845.9 1154,848.1 1155,850.5 1156,853.2 1157,856.1 1158,859.1 1159,862.1 1160,865 1161,867.8 1162,870.7 1163,873.7 1164,876.5 1165,879.3 1166,881.9 1167,884.4 1168,887 1169,889.6 1170,892 1171,894 1172,895.7 1173,896.8 1174,897.8 1175,898.7 1176,899.5 1177,900.1 1178,900.4 1179,900.5 1180,900.4 1181,900.3 1182,900.1 1183,899.9 1184,899.6 1185,899.2 1186,898.9 1187,898.2 1188,897.1 1189,895.4 1190,893.4 1191,891.1 1192,888.7 1193,886.2 1194,883.1 1195,879.5 1196,875.7 1197,871.8 1198,868.1 1199,863.8 1200,859.6 1201,856.7 1202,855.2 1203,853.8 1204,852.7 1205,851.8 1206,851.1 1207,850.8 1208,850.8 1209,851.1 1210,851.6 1211,852.3 1212,853.2 1213,854.2 1214,855.3 1215,857 1216,859.3 1217,862 1218,865.1 1219,868.3 1220,872.2 1221,876.7 1222,881.6 1223,886.5 1224,891.1 1225,896 1226,901 1227,905.7 1228,909.9 1229,913.3 1230,916.3 1231,919.3 1232,922 1233,924.2 1234,925.7 1235,926.2 1236,925.8 1237,924.6 1238,923 1239,921.3 1240,920 1241,918.9 1242,917.7 1243,916.6 1244,915.8 1245,915.5 1246,916.2 1247,918.1 1248,920.5 1249,923.2 1250,927 1251,931.8 1252,937 1253,941.9 1254,945.9 1255,949.5 1256,953 1257,956.2 1258,959.2 1259,961.7 1260,963.8 1261,965.5 1262,967.3 1263,968.9 1264,970.4 1265,971.5 1266,972.2 1267,972.5 1268,972.2 1269,971.2 1270,969.8 1271,968 1272,966 1273,963.7 1274,960.2 1275,955.8 1276,951.1 1277,946.2 1278,940.5 1279,935.5 1280,932.3 1281,930 1282,929.3 1283,930.8 1284,933.5 1285,936.8 1286,942.1 1287,948.5 1288,955 1289,961.6 1290,968.6 1291,975.3 1292,981 1293,985.7 1294,990 1295,994 1296,997.5 1297,1000.6 1298,1003.3 1299,1005.9 1300,1008.3 1301,1010.5 1302,1012.5 1303,1014.3 1304,1015.8 1305,1017 1306,1018.1 1307,1019.1 1308,1020.1 1309,1021 1310,1021.7 1311,1022.2 1312,1022.5 1313,1022.5 1314,1022.2 1315,1021.6 1316,1020.8 1317,1019.7 1318,1018.5 1319,1017.1 1320,1014.3 1321,1010 1322,1004.8 1323,999.2 1324,993.6 1325,987.7 1326,981 1327,973.8 1328,966.1 1329,957.8 1330,948.5 1331,937.9 1332,924.9 1333,908.7 1334,890.4 1335,869.4 1336,851.5 1337,835.5 1338,821.7 1339,811 1340,802.2 1341,794.6 1342,787.6 1343,780.6 1344,773 1345,764.4 1346,756.2 1347,750 1348,745.4 1349,741.4 1350,738.7 1351,738 1352,739 1353,740.9 1354,743.5 1355,746.4 1356,749.3 1357,752.4 1358,756.4 1359,760.7 1360,764.5 1361,767.1 1362,768.4 1363,769.4 1364,770.2 1365,770.7 1366,770.6 1367,769.6 1368,768.2 1369,766.9 1370,766.2 1371,766.2 1372,766.1 1373,766 1374,766 1375,766 1376,766 1377,765.9 1378,765.8 1379,765.7 1380,764.1 1381,761 1382,757.1 1383,752.6 1384,746 1385,737.5 1386,727.6 1387,715.3 1388,699.4 1389,683.6 1390,667.3 1391,652.8 1392,642.3 1393,633.9 1394,629.2 1395,626.5 1396,625.1 1397,625.6 1398,627.7 1399,631 1400,638 1401,647.6 1402,658.1 1403,670.7 1404,683.8 1405,695.9 1406,707.7 1407,719.2 1408,730.8 1409,742.4 1410,754 1411,765.2 1412,776.3 1413,787.5 1414,798.5 1415,808.7 1416,818 1417,826.6 1418,835 1419,843.2 1420,850.9 1421,857.9 1422,864.3 1423,869.6 1424,874 1425,878.1 1426,882 1427,885.7 1428,889 1429,891.6 1430,893.4 1431,894.2 1432,893.8 1433,892.1 1434,889.1 1435,885.3 1436,880.7 1437,875.6 1438,869.8 1439,860.9 1440,849.4 1441,836.3 1442,822.7 1443,809.4 1444,796.1 1445,782.1 1446,767.3 1447,751.8 1448,735.5 1449,718.5 1450,698 1451,665.6 1452,632 1453,608 1454,587.3 1455,567.4 1456,546.5 1457,526.2 1458,505.3 1459,482 1460,453.2 1461,422.8 1462,397 1463,373.2 1464,351.3 1465,331.2 1466,312.7 1467,295.4 1468,278.6 1469,261.8 1470,244.8 1471,228.8 1472,214.1 1473,200.4 1474,187.4 1475,175 1476,162.6 1477,150.2 1478,138.8 1479,129 1480,121.3 1481,113.9 1482,106.9 1483,101.2 1484,97.2 1485,95.8 1486,97.3 1487,101.3 1488,107.2 1489,114.1 1490,121.4 1491,128.8 1492,137.6 1493,147.8 1494,158.7 1495,169.6 1496,180.3 1497,190.9 1498,201.7 1499,213 1500,225 1501,238.3 1502,252.5 1503,266 1504,278.1 1505,289.5 1506,300.4 1507,311.3 1508,322.6 1509,334.6 1510,347.6 1511,361.4 1512,375.9 1513,391.2 1514,407.5 1515,425.3 1516,446.2 1517,467.3 1518,485.2 1519,499.9 1520,513.2 1521,525.8 1522,537.9 1523,549.2 1524,559.5 1525,569.1 1526,578.1 1527,586 1528,592.7 1529,598.7 1530,604 1531,608.5 1532,612.1 1533,615 1534,617.5 1535,620.2 1536,623.5 1537,628.1 1538,634.1 1539,641 1540,648.1 1541,656 1542,664.8 1543,674.7 1544,686.4 1545,698 1546,708.4 1547,718.3 1548,728.1 1549,738 1550,748 1551,758 1552,768 1553,778.1 1554,788.7 1555,799.1 1556,808.4 1557,816.3 1558,823.4 1559,829.9 1560,836 1561,841.6 1562,847.1 1563,852.3 1564,857 1565,860.5 1566,863.3 1567,865.8 1568,867.6 1569,868 1570,867 1571,864.9 1572,862.1 1573,858.1 1574,849.9 1575,838.6 1576,826.1 1577,813 1578,797.5 1579,781.1 1580,765.2 1581,749.8 1582,732.8 1583,711.4 1584,682.4 1585,647.4 1586,618.9 1587,595.7 1588,574 1589,550.9 1590,524.2 1591,498.3 1592,478.8 1593,466 1594,454.2 1595,442.9 1596,434.9 1597,433 1598,437.7 1599,446.7 1600,457.7 1601,468.6 1602,482 1603,509.7 1604,537.9 1605,560 1606,578.3 1607,593 1608,607.1 1609,617.8 1610,622 1611,603.1 1612,570 1613,540.1 1614,502.4 1615,463.1 1616,425.8 1617,384 1618,341 1619,304.9 1620,266 1621,215.9 1622,187.7 1623,161.3 1624,135.1 1625,116.5 1626,99.8 1627,84.9 1628,73.4 1629,66.9 1630,67.1 1631,75.1 1632,88.5 1633,104.7 1634,121.2 1635,137.1 1636,155.3 1637,175 1638,195.9 1639,218.9 1640,245.2 1641,272.5 1642,298.1 1643,322.8 1644,346.9 1645,369.6 1646,392 1647,416 1648,442.9 1649,471.6 1650,501.3 1651,532.5 1652,553.7 1653,569 1654,581.8 1655,594.5 1656,607.9 1657,620 1658,630.1 1659,639.3 1660,647.8 1661,656 1662,664.2 1663,672.5 1664,680.7 1665,688.3 1666,695.1 1667,700.6 1668,705.1 1669,709.4 1670,713.3 1671,716.3 1672,718 1673,717.9 1674,715.5 1675,711.3 1676,705.8 1677,699.5 1678,690.3 1679,677.2 1680,662 1681,644.3 1682,623.2 1683,600.1 1684,573.9 1685,546 1686,517.3 1687,487 1688,454.2 1689,418.4 1690,380 1691,338.9 1692,305.9 1693,280 1694,261.6 1695,246.5 1696,233.2 1697,219.4 1698,205 1699,195.2 1700,195 1701,203.5 1702,216.5 1703,230 1704,243.5 1705,258.9 1706,275.7 1707,294.1 1708,314.6 1709,335 1710,355.4 1711,375.7 1712,396 1713,416.5 1714,436.6 1715,454.9 1716,471.6 1717,487.8 1718,504.6 1719,522.3 1720,538.9 1721,552.6 1722,565.2 1723,575.7 1724,582.3 1725,587.2 1726,590.8 1727,592.2 1728,590.5 1729,586.3 1730,581 1731,573.3 1732,562.7 1733,552.1 1734,544.4 1735,537.8 1736,532.1 1737,528.2 1738,526.7 1739,525.8 1740,525.5 1741,525.5 1742,525.5 1743,525.5 1744,525.5 1745,525.5 1746,525.5 1747,525.9 1748,527.5 1749,530.1 1750,533.5 1751,540.9 1752,552.6 1753,564.6 1754,578.1 1755,591 1756,601.6 1757,612 1758,624.3 1759,637.3 1760,649.5 1761,660.4 1762,670.7 1763,680.3 1764,689.1 1765,697.5 1766,705.5 1767,713 1768,719.8 1769,726 1770,731.6 1771,736.9 1772,741.8 1773,746.4 1774,750.6 1775,754.5 1776,758.1 1777,761.5 1778,764.7 1779,767.7 1780,770.6 1781,773.2 1782,775.8 1783,778.2 1784,780.5 1785,782.7 1786,784.8 1787,786.8 1788,788.6 1789,790.4 1790,792 1791,793.5 1792,794.9 1793,796.2 1794,797.4 1795,798.6 1796,799.7 1797,800.9 1798,802 1799,803.2 1800,804.5 1801,805.8 1802,807 1803,808.3 1804,809.6 1805,810.9 1806,812.3 1807,813.7 1808,815.3 1809,817 1810,818.8 1811,820.6 1812,822.5 1813,824.4 1814,826.3 1815,828 1816,829.7 1817,831.4 1818,833 1819,834.6 1820,836.2 1821,837.6 1822,839.1 1823,840.8 1824,842.4 1825,843.6 1826,844.2 1827,843.6 1828,841.1 1829,837.7 1830,834.3 1831,829.9 1832,820 1833,801.6 1834,782.5 1835,763.8 1836,744.2 1837,723.2 1838,699.5 1839,670.1 1840,640.2 1841,616.3 1842,601.7 1843,591 1844,580.8 1845,568.9 1846,557.5 1847,550.1 1848,550.1 1849,557.6 1850,569.1 1851,580.9 1852,590.8 1853,600.7 1854,612 1855,625.5 1856,641 1857,657.6 1858,674.6 1859,691.1 1860,708.8 1861,726.8 1862,742.8 1863,755.3 1864,765.8 1865,775.1 1866,783.7 1867,792 1868,800.2 1869,807.8 1870,815" fill="none" stroke="#ff0000" stroke-width="2.0" stroke-linejoin="round" />
<polyline points="256,1039.5 257,1039.5 258,1039.5 259,1039.5 260,1039.5 261,1039.4 262,1039.4 263,1039.4 264,1039.3 265,1039.3 266,1039.2 267,1039.2 268,1039.1 269,1039.1 270,1039 271,1038.9 272,1038.8 273,1038.8 274,1038.7 275,1038.6 276,1038.5 277,1038.4 278,1038.2 279,1038.1 280,1038 281,1037.7 282,1037.3 283,1036.7 284,1036 285,1035.3 286,1034.6 287,1034 288,1033.6 289,1033.5 290,1033.7 291,1034.3 292,1035 293,1035.9 294,1036.8 295,1037.5 296,1038 297,1038.4 298,1038.7 299,1038.9 300,1039 301,1039 302,1039 303,1039 304,1039 305,1039 306,1039 307,1039 308,1039 309,1039 310,1039 311,1039 312,1038.9 313,1038.9 314,1038.9 315,1038.9 316,1038.9 317,1038.9 318,1038.9 319,1038.9 320,1038.8 321,1038.8 322,1038.8 323,1038.8 324,1038.8 325,1038.7 326,1038.7 327,1038.7 328,1038.7 329,1038.7 330,1038.6 331,1038.6 332,1038.6 333,1038.6 334,1038.5 335,1038.5 336,1038.5 337,1038.4 338,1038.4 339,1038.4 340,1038.4 341,1038.3 342,1038.3 343,1038.3 344,1038.2 345,1038.2 346,1038.2 347,1038.1 348,1038.1 349,1038 350,1038 351,1038 352,1037.9 353,1037.8 354,1037.7 355,1037.6 356,1037.4 357,1037.3 358,1037.1 359,1036.9 360,1036.7 361,1036.5 362,1036.3 363,1036 364,1035.8 365,1035.6 366,1035.3 367,1035 368,1034.8 369,1034.5 370,1034.2 371,1034 372,1033.7 373,1033.4 374,1033.1 375,1032.8 376,1032.6 377,1032.3 378,1032 379,1031.8 380,1031.5 381,1031.2 382,1030.9 383,1030.6 384,1030.3 385,1030 386,1029.6 387,1029.2 388,1028.8 389,1028.4 390,1028 391,1027.6 392,1027.2 393,1026.8 394,1026.3 395,1025.9 396,1025.5 397,1025.1 398,1024.7 399,1024.3 400,1023.9 401,1023.5 402,1023.2 403,1022.8 404,1022.5 405,1022.2 406,1021.9 407,1021.6 408,1021.4 409,1021.1 410,1021 411,1020.8 412,1020.7 413,1020.6 414,1020.5 415,1020.5 416,1020.5 417,1020.6 418,1020.7 419,1020.9 420,1021.1 421,1021.3 422,1021.6 423,1021.9 424,1022.2 425,1022.6 426,1023 427,1023.4 428,1023.9 429,1024.4 430,1024.9 431,1025.4 432,1025.9 433,1026.5 434,1027.1 435,1027.6 436,1028.2 437,1028.8 438,1029.4 439,1030 440,1030.7 441,1031.3 442,1031.9 443,1032.5 444,1033.1 445,1033.7 446,1034.3 447,1034.9 448,1035.4 449,1036 450,1036.5 451,1037 452,1037.6 453,1038.2 454,1038.7 455,1039.3 456,1040 457,1040.6 458,1041.2 459,1041.9 460,1042.5 461,1043.2 462,1043.8 463,1044.5 464,1045.1 465,1045.7 466,1046.4 467,1047 468,1047.6 469,1048.2 470,1048.8 471,1049.4 472,1050 473,1050.5 474,1051 475,1051.5 476,1052 477,1052.5 478,1052.9 479,1053.4 480,1053.9 481,1054.3 482,1054.8 483,1055.2 484,1055.7 485,1056.1 486,1056.5 487,1057 488,1057.4 489,1057.8 490,1058.2 491,1058.5 492,1058.9 493,1059.3 494,1059.6 495,1060 496,1060.3 497,1060.6 498,1060.9 499,1061.2 500,1061.5 501,1061.8 502,1062 503,1062.3 504,1062.6 505,1062.9 506,1063.2 507,1063.4 508,1063.7 509,1064 510,1064.3 511,1064.5 512,1064.8 513,1065 514,1065.3 515,1065.5 516,1065.7 517,1066 518,1066.2 519,1066.4 520,1066.5 521,1066.7 522,1066.9 523,1067 524,1067.1 525,1067.2 526,1067.3 527,1067.4 528,1067.5 529,1067.5 530,1067.5 531,1067.5 532,1067.5 533,1067.5 534,1067.5 535,1067.5 536,1067.5 537,1067.5 538,1067.5 539,1067.5 540,1067.5 541,1067.5 542,1067.5 543,1067.5 544,1067.5 545,1067.5 546,1067.5 547,1067.5 548,1067.5 549,1067.5 550,1067.5 551,1067.5 552,1067.4 553,1067.4 554,1067.3 555,1067.2 556,1067 557,1066.9 558,1066.7 559,1066.5 560,1066.3 561,1066.1 562,1065.9 563,1065.6 564,1065.4 565,1065.2 566,1064.9 567,1064.6 568,1064.4 569,1064.1 570,1063.9 571,1063.6 572,1063.4 573,1063.1 574,1062.9 575,1062.7 576,1062.5 577,1062.3 578,1062.1 579,1061.9 580,1061.6 581,1061.4 582,1061.2 583,1060.9 584,1060.7 585,1060.4 586,1060.1 587,1059.9 588,1059.6 589,1059.3 590,1059.1 591,1058.8 592,1058.5 593,1058.2 594,1058 595,1057.7 596,1057.4 597,1057.2 598,1056.9 599,1056.7 600,1056.4 601,1056.2 602,1055.9 603,1055.7 604,1055.5 605,1055.3 606,1055.1 607,1054.9 608,1054.7 609,1054.5 610,1054.3 611,1054.2 612,1054 613,1053.9 614,1053.8 615,1053.7 616,1053.6 617,1053.6 618,1053.5 619,1053.5 620,1053.5 621,1053.5 622,1053.6 623,1053.6 624,1053.7 625,1053.8 626,1054 627,1054.1 628,1054.3 629,1054.5 630,1054.7 631,1054.9 632,1055.2 633,1055.4 634,1055.6 635,1055.9 636,1056.1 637,1056.4 638,1056.6 639,1056.8 640,1057.1 641,1057.3 642,1057.5 643,1057.7 644,1057.9 645,1058 646,1058.2 647,1058.3 648,1058.4 649,1058.4 650,1058.5 651,1058.5 652,1058.5 653,1058.5 654,1058.4 655,1058.3 656,1058.2 657,1058.1 658,1058 659,1057.9 660,1057.7 661,1057.5 662,1057.3 663,1057.2 664,1057 665,1056.7 666,1056.5 667,1056.3 668,1056.1 669,1055.9 670,1055.6 671,1055.4 672,1055.2 673,1054.9 674,1054.7 675,1054.5 676,1054.2 677,1054 678,1053.8 679,1053.6 680,1053.4 681,1053.2 682,1053.1 683,1052.9 684,1052.7 685,1052.6 686,1052.5 687,1052.4 688,1052.3 689,1052.2 690,1052.1 691,1052.1 692,1052 693,1051.9 694,1051.9 695,1051.8 696,1051.8 697,1051.7 698,1051.6 699,1051.6 700,1051.5 701,1051.5 702,1051.4 703,1051.3 704,1051.3 705,1051.2 706,1051.1 707,1051 708,1050.9 709,1050.8 710,1050.6 711,1050.5 712,1050.3 713,1050.1 714,1049.9 715,1049.6 716,1049.3 717,1048.9 718,1048.5 719,1048 720,1047.6 721,1047.1 722,1046.5 723,1045.9 724,1045.3 725,1044.7 726,1044 727,1043.2 728,1042.3 729,1041.1 730,1039.9 731,1038.5 732,1036.9 733,1035.3 734,1033.5 735,1031.6 736,1029.7 737,1027.6 738,1025.5 739,1023.4 740,1021.2 741,1019 742,1016.6 743,1014 744,1011.2 745,1008.1 746,1004.9 747,1001.5 748,998 749,994.4 750,990.8 751,987.1 752,983.4 753,979.7 754,976 755,972.5 756,969 757,965.5 758,961.8 759,958 760,954 761,950 762,945.9 763,941.7 764,937.6 765,933.5 766,929.5 767,925.5 768,921.7 769,918 770,914.5 771,911.2 772,908.2 773,905.4 774,902.9 775,900.8 776,899 777,897.4 778,895.8 779,894.3 780,892.8 781,891.3 782,889.8 783,888.4 784,887 785,885.7 786,884.5 787,883.3 788,882.2 789,881.1 790,880.2 791,879.3 792,878.5 793,877.8 794,877.2 795,876.8 796,876.4 797,876.1 798,876 799,876 800,876.2 801,876.6 802,877.1 803,877.8 804,878.6 805,879.6 806,880.6 807,881.8 808,883 809,884.3 810,885.6 811,887 812,888.4 813,889.8 814,891.2 815,892.6 816,894 817,895.4 818,897 819,898.7 820,900.5 821,902.4 822,904.3 823,906.4 824,908.5 825,910.7 826,912.9 827,915.1 828,917.3 829,919.6 830,921.8 831,924 832,926.1 833,928.2 834,930.2 835,932.2 836,934 837,935.8 838,937.6 839,939.5 840,941.4 841,943.2 842,945.1 843,947 844,948.8 845,950.6 846,952.4 847,954.1 848,955.8 849,957.4 850,959 851,960.5 852,961.9 853,963.2 854,964.4 855,965.5 856,966.5 857,967.4 858,968.4 859,969.3 860,970.3 861,971.2 862,972 863,972.8 864,973.5 865,974 866,974.5 867,974.8 868,975 869,975 870,974.8 871,974.6 872,974.2 873,973.7 874,973.2 875,972.7 876,972.1 877,971.6 878,971.1 879,970.6 880,970.3 881,970 882,969.8 883,969.7 884,969.5 885,969.4 886,969.3 887,969.2 888,969.2 889,969.1 890,969 891,968.9 892,968.8 893,968.6 894,968.5 895,968.2 896,968 897,967.6 898,967 899,966.1 900,964.8 901,963.3 902,961.5 903,957.3 904,949.4 905,938.6 906,925.9 907,912 908,893.3 909,869.3 910,846 911,825.5 912,805.6 913,785.9 914,766.1 915,747.7 916,729.3 917,708.3 918,680 919,659.8 920,639.7 921,620.4 922,605 923,597.1 924,590.5 925,585.3 926,581.9 927,580.8 928,582.2 929,586.3 930,592.2 931,599.3 932,607.2 933,619.5 934,633.4 935,648 936,661.5 937,673.8 938,686.3 939,699.3 940,712.5 941,725.9 942,739.3 943,752.7 944,766 945,779.3 946,792.7 947,806.4 948,821 949,834.7 950,846 951,855.1 952,863.5 953,871 954,877.8 955,884 956,889.7 957,894.9 958,899.8 959,904.2 960,908.1 961,911.3 962,913.8 963,915.8 964,917.6 965,919.2 966,921 967,922.9 968,924.7 969,926.6 970,928.5 971,930.4 972,932.2 973,934 974,935.7 975,937.4 976,939 977,940.5 978,942 979,943.3 980,944.7 981,946 982,947.2 983,948.5 984,949.7 985,951 986,952.2 987,953.5 988,954.8 989,956.2 990,957.6 991,959 992,960.5 993,962 994,963.6 995,965.1 996,966.7 997,968.4 998,970 999,971.7 1000,973.4 1001,975.1 1002,976.9 1003,978.6 1004,980.4 1005,982.2 1006,984 1007,985.9 1008,987.9 1009,990 1010,992.1 1011,994.3 1012,996.5 1013,998.7 1014,1000.8 1015,1002.8 1016,1004.8 1017,1006.6 1018,1008.2 1019,1009.8 1020,1011.3 1021,1013 1022,1014.5 1023,1015.9 1024,1017 1025,1017.7 1026,1018 1027,1017.8 1028,1017.2 1029,1016.2 1030,1014.9 1031,1013.1 1032,1011 1033,1008.6 1034,1005.8 1035,1002.6 1036,999.1 1037,995.3 1038,991.2 1039,986 1040,975.7 1041,961.1 1042,943.9 1043,925.5 1044,907.5 1045,888.1 1046,866.7 1047,844.1 1048,821 1049,800.1 1050,780.1 1051,755.5 1052,721 1053,670.8 1054,657.8 1055,645.8 1056,634.2 1057,626.6 1058,626.2 1059,631.2 1060,639.3 1061,648.5 1062,657 1063,665.2 1064,674.6 1065,687.2 1066,707.1 1067,726.2 1068,734.8 1069,732.4 1070,725.9 1071,715.9 1072,703.2 1073,684.4 1074,647.5 1075,615.2 1076,587.1 1077,559 1078,530 1079,499.5 1080,448.4 1081,394.2 1082,360 1083,327.1 1084,316.1 1085,336.1 1086,360 1087,374.7 1088,387.1 1089,400 1090,416 1091,439.1 1092,466.7 1093,492.4 1094,517 1095,544 1096,573.1 1097,600.1 1098,624.7 1099,642.8 1100,657.9 1101,682 1102,705.2 1103,719.9 1104,731.1 1105,740.4 1106,748.3 1107,755.2 1108,761.7 1109,767.9 1110,773.4 1111,777.7 1112,780.5 1113,782.8 1114,784.7 1115,786.3 1116,788 1117,789.8 1118,791.3 1119,792.8 1120,794.4 1121,796.4 1122,799.2 1123,802.9 1124,807.4 1125,812.1 1126,816.9 1127,821.5 1128,826.6 1129,831.7 1130,836.7 1131,841 1132,844.8 1133,848.3 1134,851.7 1135,854.7 1136,857.5 1137,859.9 1138,862 1139,863.8 1140,865.4 1141,866.9 1142,868.3 1143,869.6 1144,870.9 1145,872.3 1146,873.6 1147,875.1 1148,876.4 1149,877.7 1150,879 1151,880.4 1152,881.7 1153,883.2 1154,884.8 1155,886.5 1156,888.5 1157,890.8 1158,893.3 1159,895.9 1160,898.6 1161,901.2 1162,903.8 1163,906.2 1164,908.9 1165,911.6 1166,914.3 1167,916.9 1168,919.2 1169,921.1 1170,922.5 1171,923.6 1172,924.7 1173,925.6 1174,926.5 1175,927.3 1176,927.9 1177,928.4 1178,928.7 1179,928.7 1180,928.7 1181,928.4 1182,928.1 1183,927.7 1184,927.2 1185,926.7 1186,926 1187,925.4 1188,924.6 1189,923.2 1190,921.4 1191,919.2 1192,916.8 1193,914.3 1194,911.9 1195,909.1 1196,905.9 1197,902.7 1198,899.6 1199,896.8 1200,894 1201,891.4 1202,889.4 1203,888.3 1204,887.5 1205,886.8 1206,886.2 1207,885.9 1208,885.8 1209,885.9 1210,886.4 1211,887.1 1212,888.1 1213,889.1 1214,890.3 1215,892 1216,894.4 1217,897.2 1218,900.2 1219,903.3 1220,906.9 1221,910.9 1222,915.1 1223,919.4 1224,923.5 1225,927.9 1226,932.5 1227,936.8 1228,940.5 1229,943.1 1230,945.3 1231,947.4 1232,949.2 1233,950.7 1234,951.6 1235,952 1236,951.6 1237,950.5 1238,949 1239,947.5 1240,946.2 1241,945.1 1242,943.8 1243,942.8 1244,942.1 1245,942.1 1246,942.8 1247,944.1 1248,945.8 1249,947.7 1250,950.1 1251,954.3 1252,959.5 1253,964.5 1254,968.3 1255,971.5 1256,974.6 1257,977.4 1258,979.9 1259,982 1260,983.8 1261,985.3 1262,986.8 1263,988.2 1264,989.4 1265,990.4 1266,991 1267,991.2 1268,990.9 1269,989.9 1270,988.5 1271,986.7 1272,984.8 1273,982.5 1274,979.2 1275,975.2 1276,971 1277,966.7 1278,961.9 1279,957.7 1280,955.1 1281,953.1 1282,952.6 1283,954.2 1284,957.2 1285,960.6 1286,965.7 1287,971.6 1288,977.5 1289,983.3 1290,989.4 1291,995.2 1292,1000 1293,1004 1294,1007.6 1295,1010.8 1296,1013.6 1297,1016 1298,1018.1 1299,1020.1 1300,1022 1301,1023.7 1302,1025.3 1303,1026.6 1304,1027.8 1305,1028.8 1306,1029.6 1307,1030.4 1308,1031.1 1309,1031.8 1310,1032.4 1311,1032.8 1312,1033 1313,1033 1314,1032.7 1315,1032.3 1316,1031.7 1317,1030.9 1318,1029.9 1319,1028.8 1320,1027.5 1321,1025.3 1322,1021.5 1323,1016.6 1324,1011 1325,1004.6 1326,996.1 1327,985.9 1328,974.6 1329,963.1 1330,950.2 1331,936.3 1332,922 1333,908 1334,893.6 1335,879.2 1336,865.7 1337,853.1 1338,840.9 1339,829.7 1340,820 1341,811.5 1342,804.4 1343,800.2 1344,797.5 1345,795.4 1346,793.1 1347,790.1 1348,786.4 1349,782.7 1350,780.2 1351,779.5 1352,780.3 1353,782 1354,784.3 1355,787 1356,789.8 1357,792.5 1358,795.7 1359,799.5 1360,803.2 1361,805.8 1362,807.2 1363,808.4 1364,809.2 1365,809.5 1366,809.1 1367,808.1 1368,807 1369,806 1370,805.5 1371,805.4 1372,805.3 1373,805.3 1374,805.3 1375,805.2 1376,805.2 1377,805.2 1378,805.1 1379,804.9 1380,803.5 1381,800.7 1382,797 1383,792.5 1384,784.9 1385,775.3 1386,765 1387,754.5 1388,742.7 1389,730.7 1390,719.1 1391,706.6 1392,696 1393,689.9 1394,685 1395,681.4 1396,679.6 1397,680.5 1398,684.2 1399,689.6 1400,696.2 1401,707 1402,719.3 1403,730.3 1404,740.8 1405,751.2 1406,761.2 1407,770.6 1408,779.4 1409,788 1410,797 1411,807 1412,817.8 1413,828.7 1414,839 1415,848 1416,856.2 1417,864.4 1418,872.3 1419,879.7 1420,886.3 1421,891.9 1422,896.3 1423,899.5 1424,902.3 1425,905 1426,907.4 1427,909.6 1428,911.4 1429,912.8 1430,913.8 1431,914.2 1432,913.8 1433,911.9 1434,908.7 1435,904.4 1436,899.2 1437,893.2 1438,886.8 1439,880 1440,873 1441,864.6 1442,853.9 1443,841.5 1444,828.2 1445,814.6 1446,801.4 1447,788 1448,774.1 1449,759.5 1450,744 1451,727.3 1452,709.1 1453,683.3 1454,647.5 1455,619.5 1456,597.7 1457,577.9 1458,557 1459,534.3 1460,511 1461,486.9 1462,461 1463,433.9 1464,410.7 1465,390.9 1466,372.9 1467,356.3 1468,341 1469,326.6 1470,312.9 1471,300 1472,287.9 1473,276.5 1474,266 1475,256.1 1476,246.8 1477,238.2 1478,230.3 1479,223.3 1480,215.9 1481,208.7 1482,203 1483,200.1 1484,201.1 1485,205.4 1486,211.6 1487,218.6 1488,225 1489,230.7 1490,236.3 1491,242.1 1492,248.2 1493,254.8 1494,262.1 1495,270.2 1496,279.4 1497,289.7 1498,300.9 1499,312.7 1500,325.1 1501,337.8 1502,350.9 1503,365 1504,379.9 1505,395.6 1506,411.8 1507,429.4 1508,448.9 1509,468.2 1510,485.1 1511,499.6 1512,512.9 1513,526 1514,538.7 1515,551 1516,562.9 1517,574.5 1518,585.9 1519,597.4 1520,609.2 1521,620.9 1522,632 1523,642.9 1524,653.2 1525,662 1526,669.4 1527,676 1528,681.5 1529,685.3 1530,688 1531,690 1532,691.8 1533,693.5 1534,695.5 1535,698 1536,701.2 1537,705.1 1538,709.5 1539,714.2 1540,719.4 1541,725.3 1542,731.9 1543,739.6 1544,749.1 1545,759.8 1546,770.5 1547,780.6 1548,791.1 1549,801.5 1550,811.5 1551,820.8 1552,829.4 1553,837.7 1554,845.5 1555,852.7 1556,859.1 1557,864.6 1558,869.6 1559,874.2 1560,878.5 1561,882.5 1562,886.2 1563,889.8 1564,893.8 1565,897.6 1566,901 1567,903.4 1568,904.2 1569,903.6 1570,901.7 1571,898.9 1572,895.4 1573,891.3 1574,886.8 1575,879.9 1576,870.6 1577,859.7 1578,848 1579,834.7 1580,819.1 1581,802.3 1582,785.6 1583,768.5 1584,748 1585,717.4 1586,682.6 1587,657 1588,637.9 1589,621.8 1590,607 1591,592.7 1592,579.4 1593,566.6 1594,553.6 1595,537.4 1596,523.5 1597,519.9 1598,527.8 1599,542 1600,557 1601,572.5 1602,590 1603,607 1604,623.4 1605,639.5 1606,653.9 1607,666.8 1608,679.6 1609,688.2 1610,686.5 1611,668.3 1612,643.1 1613,607 1614,570.3 1615,511.9 1616,462.5 1617,432 1618,397.5 1619,358.8 1620,323.9 1621,290.6 1622,266 1623,251 1624,239.4 1625,229.7 1626,219.9 1627,209.8 1628,205 1629,207.8 1630,214.7 1631,223 1632,231.2 1633,240.6 1634,252 1635,266 1636,286.2 1637,312.8 1638,341 1639,369.1 1640,399.5 1641,435.3 1642,475.7 1643,503.1 1644,525 1645,544.5 1646,562.8 1647,579.5 1648,595.4 1649,610.9 1650,625.9 1651,640 1652,653.7 1653,667 1654,679.4 1655,690 1656,699.1 1657,707.4 1658,715 1659,722.2 1660,728.9 1661,735.4 1662,741.8 1663,748.3 1664,754.5 1665,760.3 1666,765.6 1667,770.1 1668,773.8 1669,777.5 1670,780.7 1671,783.1 1672,784 1673,782.3 1674,777.7 1675,771.3 1676,763.9 1677,755 1678,742.2 1679,727.3 1680,712 1681,696.1 1682,679 1683,661.8 1684,645.7 1685,632 1686,616.7 1687,594.1 1688,563.1 1689,528.7 1690,496 1691,464.1 1692,431.9 1693,404.5 1694,384.5 1695,365.5 1696,348.3 1697,334.6 1698,325.9 1699,323.9 1700,327.4 1701,334.8 1702,345.5 1703,358.5 1704,373 1705,388.3 1706,404.9 1707,427.8 1708,453.4 1709,476.3 1710,497.2 1711,517.2 1712,536.6 1713,555.5 1714,574.8 1715,593 1716,608.7 1717,621 1718,631.5 1719,640.9 1720,649.5 1721,658.2 1722,666.5 1723,673.4 1724,677.9 1725,681.4 1726,683.8 1727,684.3 1728,681.2 1729,675.6 1730,669.5 1731,662.7 1732,654.6 1733,646.8 1734,640.6 1735,635.4 1736,630.7 1737,627 1738,624.7 1739,623 1740,622.9 1741,624 1742,625.5 1743,626.9 1744,627.6 1745,627.8 1746,627.9 1747,628.1 1748,628.7 1749,631 1750,634.5 1751,641.4 1752,651.7 1753,662.5 1754,675 1755,687 1756,697.7 1757,707.8 1758,717.5 1759,726.8 1760,736.1 1761,745 1762,753.3 1763,760.5 1764,767.1 1765,773.3 1766,779 1767,784.4 1768,789.6 1769,794.5 1770,799.2 1771,803.6 1772,807.6 1773,811.3 1774,814.6 1775,817.8 1776,820.8 1777,823.6 1778,826.2 1779,828.6 1780,830.9 1781,833.2 1782,835.3 1783,837.4 1784,839.3 1785,841 1786,842.6 1787,844.1 1788,845.4 1789,846.6 1790,847.7 1791,848.8 1792,849.9 1793,850.9 1794,851.9 1795,853 1796,854.1 1797,855.1 1798,856.1 1799,857.1 1800,858.1 1801,859.1 1802,860 1803,861 1804,862 1805,863 1806,864 1807,864.9 1808,865.9 1809,866.8 1810,867.8 1811,868.8 1812,869.9 1813,871.1 1814,872.6 1815,874.2 1816,875.8 1817,877.5 1818,879.1 1819,880.5 1820,881.8 1821,882.9 1822,884 1823,885 1824,885.7 1825,886 1826,885.5 1827,884.2 1828,882.1 1829,879.5 1830,875.8 1831,868.2 1832,858.2 1833,847.3 1834,833.7 1835,819.2 1836,803.5 1837,787.3 1838,770.7 1839,753.8 1840,737 1841,719.9 1842,702.4 1843,685.8 1844,670.8 1845,654.4 1846,640.1 1847,634 1848,639.3 1849,652.1 1850,667.4 1851,681.5 1852,697.3 1853,714 1854,729.9 1855,743.6 1856,755.9 1857,767.4 1858,778.6 1859,789.9 1860,802 1861,813.9 1862,824.1 1863,831.3 1864,837 1865,841.9 1866,846.3 1867,850.5 1868,854.6 1869,858.5 1870,862" fill="none" stroke="#0000ff" stroke-width="2.0" stroke-linejoin="round" />
<polyline points="256,1061 257,1061 258,1061 259,1061 260,1061 261,1060.9 262,1060.9 263,1060.9 264,1060.8 265,1060.8 266,1060.7 267,1060.7 268,1060.6 269,1060.6 270,1060.5 271,1060.4 272,1060.3 273,1060.3 274,1060.2 275,1060.1 276,1060 277,1059.9 278,1059.7 279,1059.6 280,1059.5 281,1059.2 282,1058.8 283,1058.2 284,1057.5 285,1056.8 286,1056.1 287,1055.5 288,1055.1 289,1055 290,1055.2 291,1055.8 292,1056.5 293,1057.4 294,1058.3 295,1059 296,1059.5 297,1059.9 298,1060.2 299,1060.4 300,1060.5 301,1060.5 302,1060.5 303,1060.5 304,1060.5 305,1060.5 306,1060.5 307,1060.5 308,1060.5 309,1060.5 310,1060.5 311,1060.5 312,1060.5 313,1060.5 314,1060.5 315,1060.5 316,1060.5 317,1060.5 318,1060.5 319,1060.5 320,1060.5 321,1060.5 322,1060.5 323,1060.5 324,1060.5 325,1060.5 326,1060.5 327,1060.5 328,1060.5 329,1060.5 330,1060.5 331,1060.5 332,1060.5 333,1060.5 334,1060.5 335,1060.5 336,1060.5 337,1060.5 338,1060.5 339,1060.5 340,1060.5 341,1060.5 342,1060.5 343,1060.5 344,1060.5 345,1060.5 346,1060.5 347,1060.5 348,1060.5 349,1060.5 350,1060.5 351,1060.5 352,1060.4 353,1060.4 354,1060.3 355,1060.2 356,1060.1 357,1059.9 358,1059.8 359,1059.6 360,1059.4 361,1059.2 362,1059 363,1058.7 364,1058.5 365,1058.2 366,1058 367,1057.7 368,1057.4 369,1057.1 370,1056.8 371,1056.5 372,1056.2 373,1056 374,1055.7 375,1055.4 376,1055.1 377,1054.8 378,1054.5 379,1054.3 380,1054 381,1053.7 382,1053.4 383,1053.1 384,1052.8 385,1052.4 386,1052 387,1051.6 388,1051.2 389,1050.8 390,1050.4 391,1050 392,1049.5 393,1049.1 394,1048.7 395,1048.3 396,1047.9 397,1047.5 398,1047.1 399,1046.7 400,1046.4 401,1046.1 402,1045.8 403,1045.5 404,1045.2 405,1045 406,1044.8 407,1044.7 408,1044.6 409,1044.5 410,1044.5 411,1044.5 412,1044.6 413,1044.6 414,1044.8 415,1044.9 416,1045.1 417,1045.2 418,1045.5 419,1045.7 420,1046 421,1046.3 422,1046.6 423,1046.9 424,1047.2 425,1047.6 426,1048 427,1048.4 428,1048.8 429,1049.2 430,1049.6 431,1050.1 432,1050.5 433,1051 434,1051.4 435,1051.9 436,1052.4 437,1052.9 438,1053.4 439,1053.9 440,1054.3 441,1054.8 442,1055.3 443,1055.8 444,1056.3 445,1056.7 446,1057.2 447,1057.7 448,1058.1 449,1058.6 450,1059 451,1059.4 452,1059.9 453,1060.4 454,1060.8 455,1061.3 456,1061.8 457,1062.4 458,1062.9 459,1063.4 460,1064 461,1064.5 462,1065 463,1065.6 464,1066.1 465,1066.7 466,1067.2 467,1067.7 468,1068.2 469,1068.7 470,1069.2 471,1069.7 472,1070.2 473,1070.7 474,1071.1 475,1071.5 476,1071.9 477,1072.3 478,1072.7 479,1073.1 480,1073.6 481,1074 482,1074.4 483,1074.8 484,1075.2 485,1075.6 486,1076 487,1076.3 488,1076.7 489,1077.1 490,1077.4 491,1077.7 492,1078.1 493,1078.4 494,1078.7 495,1078.9 496,1079.2 497,1079.4 498,1079.6 499,1079.8 500,1080 501,1080.2 502,1080.3 503,1080.5 504,1080.6 505,1080.7 506,1080.9 507,1081 508,1081.1 509,1081.3 510,1081.4 511,1081.5 512,1081.6 513,1081.7 514,1081.8 515,1081.9 516,1082 517,1082.1 518,1082.2 519,1082.3 520,1082.4 521,1082.5 522,1082.6 523,1082.6 524,1082.7 525,1082.8 526,1082.8 527,1082.9 528,1082.9 529,1083 530,1083 531,1083 532,1083.1 533,1083.1 534,1083.2 535,1083.2 536,1083.2 537,1083.3 538,1083.3 539,1083.3 540,1083.3 541,1083.4 542,1083.4 543,1083.4 544,1083.4 545,1083.5 546,1083.5 547,1083.5 548,1083.5 549,1083.5 550,1083.5 551,1083.5 552,1083.5 553,1083.4 554,1083.3 555,1083.2 556,1083.1 557,1082.9 558,1082.8 559,1082.6 560,1082.4 561,1082.3 562,1082.1 563,1081.8 564,1081.6 565,1081.4 566,1081.2 567,1080.9 568,1080.7 569,1080.5 570,1080.3 571,1080 572,1079.8 573,1079.6 574,1079.4 575,1079.2 576,1079 577,1078.8 578,1078.6 579,1078.4 580,1078.2 581,1078 582,1077.8 583,1077.5 584,1077.3 585,1077 586,1076.8 587,1076.5 588,1076.3 589,1076 590,1075.8 591,1075.5 592,1075.3 593,1075 594,1074.8 595,1074.5 596,1074.2 597,1074 598,1073.8 599,1073.5 600,1073.3 601,1073 602,1072.8 603,1072.6 604,1072.4 605,1072.2 606,1072 607,1071.8 608,1071.6 609,1071.5 610,1071.3 611,1071.2 612,1071 613,1070.9 614,1070.8 615,1070.7 616,1070.6 617,1070.6 618,1070.5 619,1070.5 620,1070.5 621,1070.5 622,1070.5 623,1070.6 624,1070.7 625,1070.7 626,1070.8 627,1071 628,1071.1 629,1071.2 630,1071.4 631,1071.5 632,1071.7 633,1071.8 634,1072 635,1072.2 636,1072.3 637,1072.5 638,1072.7 639,1072.8 640,1073 641,1073.1 642,1073.3 643,1073.4 644,1073.5 645,1073.7 646,1073.8 647,1073.8 648,1073.9 649,1074 650,1074 651,1074 652,1074 653,1073.9 654,1073.8 655,1073.7 656,1073.6 657,1073.4 658,1073.2 659,1073 660,1072.7 661,1072.5 662,1072.2 663,1071.9 664,1071.6 665,1071.2 666,1070.9 667,1070.5 668,1070.2 669,1069.8 670,1069.5 671,1069.1 672,1068.8 673,1068.4 674,1068.1 675,1067.7 676,1067.4 677,1067.1 678,1066.8 679,1066.5 680,1066.2 681,1065.9 682,1065.7 683,1065.5 684,1065.3 685,1065.1 686,1065 687,1064.9 688,1064.8 689,1064.7 690,1064.6 691,1064.5 692,1064.5 693,1064.4 694,1064.3 695,1064.3 696,1064.2 697,1064.2 698,1064.1 699,1064 700,1064 701,1063.9 702,1063.9 703,1063.8 704,1063.7 705,1063.7 706,1063.6 707,1063.5 708,1063.4 709,1063.3 710,1063.1 711,1063 712,1062.8 713,1062.6 714,1062.4 715,1062.1 716,1061.7 717,1061.4 718,1061 719,1060.5 720,1060 721,1059.5 722,1059 723,1058.4 724,1057.8 725,1057.2 726,1056.5 727,1055.8 728,1054.9 729,1053.8 730,1052.7 731,1051.4 732,1050 733,1048.5 734,1046.9 735,1045.3 736,1043.5 737,1041.7 738,1039.9 739,1037.9 740,1036 741,1034 742,1031.9 743,1029.5 744,1026.9 745,1024.2 746,1021.2 747,1018.2 748,1015 749,1011.7 750,1008.4 751,1005.1 752,1001.8 753,998.5 754,995.2 755,992.1 756,989 757,985.9 758,982.7 759,979.3 760,975.9 761,972.4 762,968.8 763,965.3 764,961.7 765,958.2 766,954.7 767,951.3 768,948.1 769,944.9 770,942 771,939.2 772,936.6 773,934.3 774,932.2 775,930.5 776,929 777,927.7 778,926.5 779,925.2 780,924 781,922.8 782,921.6 783,920.5 784,919.4 785,918.3 786,917.3 787,916.3 788,915.4 789,914.5 790,913.7 791,912.9 792,912.2 793,911.6 794,911 795,910.5 796,910 797,909.7 798,909.4 799,909.2 800,909 801,909 802,909.1 803,909.3 804,909.8 805,910.3 806,911 807,911.8 808,912.7 809,913.6 810,914.7 811,915.7 812,916.9 813,918 814,919.2 815,920.4 816,921.5 817,922.7 818,924.1 819,925.6 820,927.3 821,929.1 822,930.9 823,932.9 824,934.9 825,937 826,939.1 827,941.3 828,943.4 829,945.5 830,947.7 831,949.7 832,951.8 833,953.7 834,955.6 835,957.4 836,959 837,960.6 838,962.2 839,963.8 840,965.4 841,967 842,968.5 843,970.1 844,971.6 845,973.1 846,974.6 847,976 848,977.4 849,978.8 850,980.1 851,981.3 852,982.5 853,983.6 854,984.6 855,985.6 856,986.5 857,987.4 858,988.3 859,989.2 860,990 861,990.8 862,991.5 863,992.1 864,992.6 865,992.9 866,993 867,992.9 868,992.7 869,992.3 870,991.9 871,991.3 872,990.7 873,990.1 874,989.4 875,988.7 876,988 877,987.4 878,986.8 879,986.2 880,985.8 881,985.5 882,985.3 883,985 884,984.8 885,984.5 886,984.3 887,984.1 888,983.9 889,983.7 890,983.5 891,983.4 892,983.2 893,983.1 894,983.1 895,983 896,983 897,983.1 898,983.3 899,983.5 900,983.7 901,983.9 902,984 903,979.2 904,969.1 905,959.1 906,948.5 907,936.5 908,923.1 909,907.9 910,888.5 911,866.7 912,846 913,827.8 914,810.5 915,793.4 916,775.6 917,756 918,734.5 919,713.6 920,696 921,682.9 922,671.2 923,660.5 924,653.7 925,649.1 926,645.8 927,645.1 928,647.1 929,650.7 930,655 931,660.1 932,666.7 933,674.1 934,682 935,690.8 936,702.3 937,717.7 938,734.4 939,749.5 940,763.2 941,776.4 942,789.4 943,802.8 944,816.9 945,830.7 946,843.2 947,854 948,864 949,873.3 950,881.7 951,889.3 952,895.7 953,901.2 954,906.4 955,912 956,919 957,926.3 958,932 959,935.9 960,939.5 961,942.6 962,945.4 963,947.9 964,950.2 965,952.2 966,954 967,955.7 968,957.2 969,958.6 970,959.8 971,961 972,962.2 973,963.3 974,964.3 975,965.4 976,966.5 977,967.6 978,968.6 979,969.7 980,970.6 981,971.6 982,972.6 983,973.5 984,974.4 985,975.4 986,976.3 987,977.3 988,978.3 989,979.3 990,980.4 991,981.5 992,982.7 993,983.8 994,985 995,986.3 996,987.5 997,988.8 998,990.1 999,991.4 1000,992.8 1001,994.2 1002,995.6 1003,997 1004,998.5 1005,1000 1006,1001.5 1007,1003.1 1008,1005 1009,1006.9 1010,1009 1011,1011.1 1012,1013.2 1013,1015.2 1014,1017.2 1015,1019.1 1016,1020.8 1017,1022.3 1018,1023.5 1019,1024.5 1020,1025.4 1021,1026.3 1022,1027.2 1023,1027.9 1024,1028.5 1025,1028.9 1026,1029 1027,1028.8 1028,1028.1 1029,1027 1030,1025.6 1031,1023.7 1032,1021.5 1033,1018.9 1034,1016 1035,1012.7 1036,1009.1 1037,1005.3 1038,1001.2 1039,996.2 1040,987.7 1041,975.8 1042,961.4 1043,945.4 1044,928.6 1045,912 1046,894.4 1047,874.7 1048,853.7 1049,831.9 1050,809.8 1051,786.1 1052,761.6 1053,737.7 1054,715.5 1055,696 1056,685 1057,680 1058,683.5 1059,691.4 1060,700 1061,709.3 1062,720.9 1063,733.9 1064,747 1065,759.1 1066,769.1 1067,776 1068,778.5 1069,774.8 1070,764.6 1071,749.6 1072,731.3 1073,711.3 1074,690.6 1075,662.7 1076,629.1 1077,595.2 1078,566.3 1079,541 1080,516 1081,487.9 1082,445.5 1083,403.5 1084,404.5 1085,416.4 1086,430 1087,442 1088,455.1 1089,470.7 1090,492 1091,522.6 1092,551 1093,580 1094,612 1095,653.1 1096,696 1097,713.3 1098,724.9 1099,736.6 1100,748.6 1101,760.1 1102,771 1103,781.7 1104,791.9 1105,801 1106,809.2 1107,816.7 1108,823.2 1109,828.5 1110,833.3 1111,837.5 1112,840.8 1113,843 1114,844.7 1115,846 1116,847.2 1117,848.4 1118,849.6 1119,850.5 1120,851.5 1121,852.7 1122,854.6 1123,857.7 1124,861.8 1125,866.3 1126,870.9 1127,875.5 1128,880.6 1129,885.7 1130,890.2 1131,893.6 1132,896.6 1133,899.4 1134,902 1135,904.3 1136,906.3 1137,908 1138,909.4 1139,910.7 1140,911.8 1141,912.8 1142,913.7 1143,914.6 1144,915.4 1145,916.3 1146,917.3 1147,918.2 1148,919.1 1149,920 1150,920.9 1151,921.9 1152,922.9 1153,924 1154,925.3 1155,926.9 1156,928.8 1157,930.8 1158,933 1159,935.2 1160,937.4 1161,939.5 1162,941.6 1163,943.8 1164,946.1 1165,948.4 1166,950.5 1167,952.5 1168,954.1 1169,955.3 1170,956.3 1171,957.4 1172,958.3 1173,959.2 1174,959.9 1175,960.6 1176,961 1177,961.2 1178,961.2 1179,961.1 1180,960.9 1181,960.6 1182,960.3 1183,959.8 1184,959.3 1185,958.8 1186,958.2 1187,957.4 1188,956.2 1189,954.6 1190,952.7 1191,950.7 1192,948.6 1193,946.3 1194,943.6 1195,940.5 1196,937.5 1197,934.8 1198,932.8 1199,930.9 1200,929.2 1201,927.7 1202,926.6 1203,925.9 1204,925.4 1205,924.9 1206,924.5 1207,924.3 1208,924.3 1209,924.6 1210,925.1 1211,925.9 1212,926.8 1213,927.9 1214,929.1 1215,931 1216,933.7 1217,936.8 1218,940.1 1219,943.3 1220,946.6 1221,950.2 1222,953.9 1223,957.5 1224,960.8 1225,964.3 1226,967.8 1227,971 1228,973.6 1229,975.3 1230,976.7 1231,977.9 1232,979 1233,979.8 1234,980.3 1235,980.5 1236,980.1 1237,979 1238,977.6 1239,976.2 1240,975 1241,974 1242,972.9 1243,971.9 1244,971.3 1245,971.3 1246,972 1247,973.2 1248,974.8 1249,976.6 1250,978.7 1251,982 1252,986.1 1253,990.1 1254,993.2 1255,995.9 1256,998.5 1257,1001 1258,1003.1 1259,1004.9 1260,1006.2 1261,1007.3 1262,1008.4 1263,1009.3 1264,1010.1 1265,1010.7 1266,1011.1 1267,1011.2 1268,1010.9 1269,1009.9 1270,1008.5 1271,1006.7 1272,1004.7 1273,1002.6 1274,999.5 1275,995.8 1276,992.1 1277,988.4 1278,984.4 1279,981.1 1280,979.2 1281,977.9 1282,977.6 1283,979.2 1284,982.2 1285,985.7 1286,991 1287,997.1 1288,1002.5 1289,1006.9 1290,1011 1291,1014.7 1292,1018 1293,1021.2 1294,1024.2 1295,1027 1296,1029.5 1297,1031.6 1298,1033.3 1299,1034.8 1300,1036.3 1301,1037.5 1302,1038.7 1303,1039.7 1304,1040.5 1305,1041.2 1306,1041.9 1307,1042.5 1308,1043.1 1309,1043.6 1310,1044 1311,1044.3 1312,1044.5 1313,1044.5 1314,1044.2 1315,1043.8 1316,1043.1 1317,1042.2 1318,1041.2 1319,1040 1320,1038.8 1321,1036.8 1322,1033.6 1323,1029.5 1324,1024.6 1325,1019 1326,1011.2 1327,1000.8 1328,990 1329,979.4 1330,968.2 1331,956.7 1332,944.7 1333,932.4 1334,920.1 1335,907.7 1336,894.4 1337,881.3 1338,869.5 1339,860.5 1340,852.7 1341,845.5 1342,839.4 1343,834.8 1344,831.9 1345,829.8 1346,827.9 1347,826.3 1348,825.2 1349,824.6 1350,824.6 1351,825.4 1352,826.8 1353,828.5 1354,830.5 1355,832.5 1356,834.9 1357,837.8 1358,841 1359,844 1360,846.2 1361,848.1 1362,850 1363,851.5 1364,852.4 1365,852.4 1366,851.9 1367,851 1368,849.9 1369,848.7 1370,847.8 1371,847.1 1372,846.8 1373,846.6 1374,846.5 1375,846.4 1376,846.2 1377,845.9 1378,845.4 1379,843.7 1380,841.2 1381,838.3 1382,834.8 1383,830.3 1384,824.7 1385,818 1386,808.5 1387,795.9 1388,783.1 1389,772.6 1390,763.3 1391,754.8 1392,747.7 1393,742.6 1394,737.9 1395,734.6 1396,733.8 1397,735.4 1398,738.6 1399,742.8 1400,747.8 1401,755.9 1402,765.7 1403,775 1404,783.1 1405,791 1406,798.8 1407,807 1408,815.7 1409,825.5 1410,836.1 1411,847 1412,857.8 1413,868.2 1414,877.5 1415,885.5 1416,892.5 1417,899.1 1418,905 1419,910.1 1420,914 1421,917.3 1422,920.5 1423,923.5 1424,926.4 1425,929.1 1426,931.4 1427,933.5 1428,935.2 1429,936.4 1430,937.2 1431,937.5 1432,937.3 1433,936.5 1434,935.3 1435,933.7 1436,931.6 1437,929 1438,926.1 1439,922.8 1440,919.1 1441,915.1 1442,908.7 1443,896.1 1444,879.1 1445,859.9 1446,840.5 1447,823 1448,807.8 1449,793.2 1450,778.6 1451,762.9 1452,745.3 1453,724 1454,698 1455,673.3 1456,648.6 1457,624.2 1458,600 1459,575.4 1460,550.4 1461,525.9 1462,502.8 1463,482 1464,463.4 1465,446.2 1466,430.4 1467,416 1468,402.9 1469,390.9 1470,379.6 1471,368.7 1472,357.8 1473,346.7 1474,336 1475,326.2 1476,317.8 1477,310.6 1478,303.3 1479,296.6 1480,291.1 1481,287.6 1482,286.8 1483,288.9 1484,293.2 1485,299 1486,305.7 1487,312.7 1488,319.5 1489,327.5 1490,336.6 1491,346.3 1492,356.2 1493,366 1494,375.3 1495,384.4 1496,393.9 1497,404.3 1498,416 1499,430.7 1500,448.2 1501,466.1 1502,482 1503,495.2 1504,507.4 1505,519.5 1506,531.7 1507,543.9 1508,557 1509,571.6 1510,587.3 1511,603.1 1512,618.8 1513,634.8 1514,650 1515,663.6 1516,676.5 1517,688.2 1518,698 1519,705.8 1520,712.5 1521,718.6 1522,724.8 1523,731.5 1524,738.9 1525,746 1526,751.9 1527,756 1528,759.5 1529,762.6 1530,765.2 1531,767.5 1532,769.3 1533,770.7 1534,771.8 1535,773.2 1536,774.9 1537,777.8 1538,782.1 1539,787.4 1540,793 1541,798.9 1542,805.5 1543,812.6 1544,819.8 1545,827.7 1546,835.9 1547,844.1 1548,851.9 1549,859.8 1550,867.5 1551,875.1 1552,882.2 1553,888.8 1554,895.4 1555,901.7 1556,907.5 1557,912.2 1558,915.6 1559,918.9 1560,922 1561,925 1562,927.7 1563,930.2 1564,932.3 1565,934.1 1566,935.4 1567,936.2 1568,936.5 1569,936.3 1570,935.8 1571,934.8 1572,933.5 1573,931.8 1574,929.6 1575,927.1 1576,924.2 1577,920.8 1578,917.1 1579,912.5 1580,900.3 1581,880.9 1582,858.8 1583,837.2 1584,813.4 1585,787 1586,756.9 1587,720.7 1588,694 1589,676.2 1590,661.6 1591,649.1 1592,637.6 1593,626 1594,613.1 1595,602 1596,596 1597,598.2 1598,607.3 1599,619.8 1600,632 1601,643.6 1602,656.3 1603,669.5 1604,684 1605,698 1606,711.2 1607,724.8 1608,736.3 1609,743.3 1610,743.5 1611,737.9 1612,727.2 1613,712 1614,690.6 1615,632 1616,568.5 1617,504.4 1618,467 1619,444.1 1620,425.5 1621,406.1 1622,387.2 1623,370 1624,353.4 1625,335.8 1626,321.7 1627,316 1628,320.6 1629,332.1 1630,347.2 1631,362.5 1632,376.1 1633,390.3 1634,406.6 1635,427.1 1636,454.2 1637,482 1638,507.8 1639,532.8 1640,555.8 1641,577.3 1642,597.5 1643,616.2 1644,634.2 1645,651 1646,666.1 1647,678.6 1648,689.3 1649,701.2 1650,715.3 1651,728.4 1652,741.1 1653,753.3 1654,764.5 1655,774.5 1656,783.4 1657,791.7 1658,799.3 1659,806.1 1660,812 1661,817.1 1662,821.6 1663,825.5 1664,828.8 1665,832 1666,835.2 1667,838.1 1668,840.7 1669,842.7 1670,844 1671,844.2 1672,843.5 1673,841.8 1674,839.3 1675,836 1676,832.3 1677,828 1678,820.6 1679,810 1680,798.7 1681,785.7 1682,770.6 1683,752.2 1684,728.5 1685,701.2 1686,671.3 1687,636.1 1688,607.2 1689,586.4 1690,568.6 1691,550.8 1692,530.5 1693,508.7 1694,488 1695,471 1696,456 1697,442.5 1698,435.1 1699,437.3 1700,446.9 1701,460.4 1702,474.7 1703,493.3 1704,515.3 1705,536.8 1706,554.2 1707,569.2 1708,583.2 1709,597.2 1710,612 1711,628.5 1712,645.8 1713,662.8 1714,678.2 1715,692.8 1716,706.6 1717,719 1718,729.7 1719,739.8 1720,748.7 1721,755.6 1722,760.8 1723,765.7 1724,769.9 1725,773 1726,774.4 1727,773.7 1728,770.8 1729,766.6 1730,762 1731,756.2 1732,748.9 1733,741.5 1734,735.7 1735,730.5 1736,726 1737,723.2 1738,721.8 1739,720.9 1740,720.8 1741,721.3 1742,722.2 1743,723.4 1744,724.6 1745,725.8 1746,726.8 1747,727.8 1748,729.1 1749,730.8 1750,734.1 1751,742.2 1752,752 1753,762.8 1754,775.2 1755,787 1756,798.2 1757,809.5 1758,819.7 1759,828 1760,834.4 1761,839.8 1762,844.6 1763,849.3 1764,854.3 1765,859.7 1766,865.1 1767,870.3 1768,875 1769,878.9 1770,882.3 1771,885.5 1772,888.4 1773,891 1774,893.4 1775,895.5 1776,897.4 1777,899.3 1778,901 1779,902.6 1780,904.1 1781,905.5 1782,906.9 1783,908.2 1784,909.4 1785,910.5 1786,911.6 1787,912.6 1788,913.6 1789,914.6 1790,915.5 1791,916.3 1792,917.1 1793,917.9 1794,918.6 1795,919.2 1796,919.9 1797,920.4 1798,920.9 1799,921.4 1800,921.8 1801,922.2 1802,922.7 1803,923.2 1804,923.7 1805,924.2 1806,924.9 1807,925.6 1808,926.3 1809,927 1810,927.8 1811,928.6 1812,929.4 1813,930.2 1814,931 1815,931.8 1816,932.6 1817,933.5 1818,934.4 1819,935.4 1820,936.4 1821,937.2 1822,937.9 1823,938.4 1824,938.7 1825,938.6 1826,937.6 1827,935.6 1828,933 1829,929.8 1830,925.6 1831,917.9 1832,908.1 1833,897.7 1834,885.6 1835,872.3 1836,858.4 1837,843.3 1838,828 1839,812.5 1840,796.5 1841,781.1 1842,767.6 1843,756.6 1844,745.6 1845,735.8 1846,729.2 1847,727.7 1848,731.6 1849,739.3 1850,749.2 1851,759.5 1852,770.2 1853,783.2 1854,797.6 1855,812 1856,825.1 1857,836.2 1858,846.5 1859,856.1 1860,865.5 1861,874.8 1862,883.8 1863,892.3 1864,899.8 1865,906.6 1866,912.7 1867,918 1868,922.6 1869,926.6 1870,930" fill="none" stroke="#008080" stroke-width="2.0" stroke-linejoin="round" />
</g>
<rect x="267.8" y="69.9" width="478.7" height="290.1" fill="#fff" stroke="#000" stroke-width="2"/>
<line x1="280" y1="109" x2="411" y2="109" stroke="#000" stroke-width="2.3" stroke-linecap="round"/>
<text x="424" y="128" font-size="59" text-anchor="start" >PSf Substrate</text>
<line x1="280" y1="182" x2="411" y2="182" stroke="#ff0000" stroke-width="2.3" stroke-linecap="round"/>
<text x="424" y="201" font-size="59" text-anchor="start" >M-3</text>
<line x1="280" y1="255" x2="411" y2="255" stroke="#0000ff" stroke-width="2.3" stroke-linecap="round"/>
<text x="424" y="274" font-size="59" text-anchor="start" >M-2</text>
<line x1="280" y1="328" x2="411" y2="328" stroke="#008080" stroke-width="2.3" stroke-linecap="round"/>
<text x="424" y="347" font-size="59" text-anchor="start" >M-1</text>
<line x1="620" y1="63.5" x2="620" y2="362" stroke="#000" stroke-width="1.8" stroke-dasharray="9.7 6.6" stroke-dashoffset="-8"/>
<text x="57.5" y="92" font-size="59" text-anchor="start" >(a)</text>
<text transform="translate(67.5 668) rotate(-90)" font-size="59" text-anchor="middle">Absorptance</text>
<text x="818" y="1439" font-size="59">Wavenumbers (cm<tspan dy="-32" font-size="34">-1</tspan><tspan dy="32">)</tspan></text>
<text x="368.5" y="574.5" font-size="56.7" text-anchor="start" >1750</text>
<text x="665.5" y="552" font-size="56.7" text-anchor="start" >1660</text>
<line x1="460" y1="582" x2="575.8" y2="597.5" stroke="#000" stroke-width="2.0" /><polygon points="606,601.5 572.9,604.1 574.7,590.3" fill="#000"/>
<line x1="712" y1="570.5" x2="779.1" y2="685.7" stroke="#000" stroke-width="2.0" /><polygon points="794.5,712 772.1,687.4 784.2,680.4" fill="#000"/>
</g>
<g id="chartB">
<line x1="281.3" y1="2741.5" x2="281.3" y2="2718.6" stroke="#000" stroke-width="4.8" stroke-linecap="round"/>
<text x="281.3" y="2812.5" font-size="59" text-anchor="middle" >200</text>
<line x1="410.7" y1="2741.5" x2="410.7" y2="2730.1" stroke="#000" stroke-width="4.8" stroke-linecap="round"/>
<line x1="540" y1="2741.5" x2="540" y2="2718.6" stroke="#000" stroke-width="4.8" stroke-linecap="round"/>
<text x="540" y="2812.5" font-size="59" text-anchor="middle" >300</text>
<line x1="669.4" y1="2741.5" x2="669.4" y2="2730.1" stroke="#000" stroke-width="4.8" stroke-linecap="round"/>
<line x1="798.7" y1="2741.5" x2="798.7" y2="2718.6" stroke="#000" stroke-width="4.8" stroke-linecap="round"/>
<text x="798.7" y="2812.5" font-size="59" text-anchor="middle" >400</text>
<line x1="928" y1="2741.5" x2="928" y2="2730.1" stroke="#000" stroke-width="4.8" stroke-linecap="round"/>
<line x1="1057.4" y1="2741.5" x2="1057.4" y2="2718.6" stroke="#000" stroke-width="4.8" stroke-linecap="round"/>
<text x="1057.4" y="2812.5" font-size="59" text-anchor="middle" >500</text>
<line x1="1186.7" y1="2741.5" x2="1186.7" y2="2730.1" stroke="#000" stroke-width="4.8" stroke-linecap="round"/>
<line x1="1316.1" y1="2741.5" x2="1316.1" y2="2718.6" stroke="#000" stroke-width="4.8" stroke-linecap="round"/>
<text x="1316.1" y="2812.5" font-size="59" text-anchor="middle" >600</text>
<line x1="1445.4" y1="2741.5" x2="1445.4" y2="2730.1" stroke="#000" stroke-width="4.8" stroke-linecap="round"/>
<line x1="1574.7" y1="2741.5" x2="1574.7" y2="2718.6" stroke="#000" stroke-width="4.8" stroke-linecap="round"/>
<text x="1574.7" y="2812.5" font-size="59" text-anchor="middle" >700</text>
<line x1="1704.1" y1="2741.5" x2="1704.1" y2="2730.1" stroke="#000" stroke-width="4.8" stroke-linecap="round"/>
<text x="1833.4" y="2812.5" font-size="59" text-anchor="middle" >800</text>
<rect x="152.0" y="1500.5" width="1681.4" height="1241.6" fill="none" stroke="#000" stroke-width="4.8" stroke-linejoin="round"/>
<clipPath id="clipB"><rect x="152.0" y="1500.5" width="1681.4" height="1241.6"/></clipPath>
<g clip-path="url(#clipB)">
<polyline points="152,1853.5 154.6,1847.3 157.2,1844.9 159.8,1837.7 162.4,1844.1 165,1844.9 167.6,1843.8 170.2,1846.1 172.8,1846.9 175.4,1842.1 178,1841.3 180.6,1842.5 183.2,1846.2 185.8,1846.5 188.4,1840.3 191,1839.2 193.6,1845 196.2,1844 198.8,1844.2 201.4,1840.7 204,1845.6 206.6,1842.4 209.2,1844.4 211.8,1847.6 214.4,1845.2 217,1842.5 219.6,1844 222.2,1840 224.8,1840.2 227.4,1839.2 230,1839.8 232.6,1839 235.2,1839.6 237.8,1839 240.4,1840.2 243,1840.3 245.6,1840.8 248.2,1844.2 250.8,1835.7 253.4,1842.1 256,1839.4 258.6,1834.9 261.2,1837.2 263.8,1838.7 266.4,1841.8 269,1835.7 271.6,1837.8 274.2,1838.3 276.8,1832.5 279.4,1832.4 282,1834.8 284.6,1839.7 287.2,1840.8 289.8,1839.2 292.4,1838.2 295,1837 297.6,1840 300.2,1834.3 302.8,1834.5 305.4,1836.3 308,1830.2 310.6,1837.3 313.2,1832.6 315.8,1832.8 318.4,1840 321,1832 323.6,1830.2 326.2,1836.6 328.8,1829.6 331.4,1829.2 334,1832.3 336.6,1832.5 339.2,1832.5 341.8,1831.5 344.4,1834 347,1833.3 349.6,1831.4 352.2,1826.7 354.8,1825.2 357.4,1821.1 360,1827.9 362.6,1821.7 365.2,1827.8 367.8,1832.5 370.4,1823.8 373,1822.3 375.6,1822.9 378.2,1826.8 380.8,1822.2 383.4,1822.9 386,1821.9 388.6,1822.2 391.2,1826.9 393.8,1820.7 396.4,1821.9 399,1823 401.6,1824.7 404.2,1818.2 406.8,1823.6 409.4,1823 412,1823.6 414.6,1819 417.2,1810.6 419.8,1810 422.4,1812.9 425,1809.2 427.6,1804.8 430.2,1806.7 432.8,1805.1 435.4,1793.8 438,1805.1 440.6,1800 443.2,1800.3 445.8,1810.4 448.4,1810.2 451,1815.7 453.6,1824.4 456.2,1830.6 458.8,1840.2 461.4,1846.5 464,1848.2 466.6,1859.6 469.2,1863.4 471.8,1871.2 474.4,1865.8 477,1870 479.6,1872.9 482.2,1876.9 484.8,1886.2 487.4,1884 490,1879.7 492.6,1880.4 495.2,1882.1 497.8,1876.5 500.4,1876.8 503,1882.3 505.6,1881 508.2,1877.4 510.8,1875.1 513.4,1875.6 516,1871.3 518.6,1877.8 521.2,1877.8 523.8,1876.7 526.4,1872.1 529,1872.8 531.6,1877 534.2,1877.2 536.8,1874.7 539.4,1877.2 542,1879.3 544.6,1874.6 547.2,1873.8 549.8,1872.9 552.4,1871.7 555,1877.6 557.6,1878.2 560.2,1877.5 562.8,1872.6 565.4,1871.8 568,1875 570.6,1874.7 573.2,1876.1 575.8,1873.9 578.4,1877.5 581,1882.1 583.6,1882.2 586.2,1882.2 588.8,1872.2 591.4,1878.9 594,1875.5 596.6,1878.6 599.2,1875.5 601.8,1874.1 604.4,1873.5 607,1877.5 609.6,1877.2 612.2,1876.6 614.8,1872.3 617.4,1875.2 620,1871.2 622.6,1879 625.2,1876.2 627.8,1875.9 630.4,1875.2 633,1870.3 635.6,1869.8 638.2,1874.1 640.8,1879.8 643.4,1872.8 646,1872 648.6,1874.3 651.2,1869.7 653.8,1868.3 656.4,1872.3 659,1874.4 661.6,1873.5 664.2,1879.2 666.8,1875.3 669.4,1875.6 672,1879.8 674.6,1881.1 677.2,1870.8 679.8,1872 682.4,1877.7 685,1870.9 687.6,1870.3 690.2,1869.4 692.8,1868.9 695.4,1869.5 698,1873.7 700.6,1872.8 703.2,1879.7 705.8,1875.1 708.4,1867.7 711,1872 713.6,1872.6 716.2,1874.4 718.8,1873.4 721.4,1867.8 724,1873.3 726.6,1867.2 729.2,1869.5 731.8,1869.6 734.4,1874.5 737,1878.3 739.6,1866.9 742.2,1872.2 744.8,1875.3 747.4,1872.3 750,1874.5 752.6,1869.7 755.2,1873.8 757.8,1874.7 760.4,1869.8 763,1869.6 765.6,1871.2 768.2,1870.1 770.8,1875 773.4,1873.5 776,1876.3 778.6,1876.7 781.2,1866.9 783.8,1872.6 786.4,1870.8 789,1871.5 791.6,1872.4 794.2,1876.7 796.8,1868.2 799.4,1877.4 802,1878.5 804.6,1871.3 807.2,1876.3 809.8,1881.4 812.4,1882.9 815,1875.3 817.6,1875 820.2,1874.7 822.8,1874.7 825.4,1880.4 828,1879 830.6,1880.1 833.2,1882 835.8,1875.4 838.4,1874.4 841,1875.2 843.6,1878.3 846.2,1875.5 848.8,1876.9 851.4,1879 854,1879.3 856.6,1876.9 859.2,1872.4 861.8,1869 864.4,1876.6 867,1876.5 869.6,1871.6 872.2,1871.7 874.8,1872.2 877.4,1868.3 880,1873.2 882.6,1871.4 885.2,1872 887.8,1875.5 890.4,1873.6 893,1874.9 895.6,1874.9 898.2,1873.5 900.8,1873.1 903.4,1878.6 906,1873.4 908.6,1877.2 911.2,1870.5 913.8,1873.4 916.4,1872.7 919,1869.3 921.6,1862.4 924.2,1873.9 926.8,1868.4 929.4,1866.6 932,1870 934.6,1870.4 937.2,1870.8 939.8,1869.1 942.4,1864.6 945,1870.8 947.6,1866.9 950.2,1868.8 952.8,1870.6 955.4,1872.5 958,1868.4 960.6,1866.8 963.2,1866.6 965.8,1861.2 968.4,1862.9 971,1862.6 973.6,1861.6 976.2,1865.2 978.8,1864.3 981.4,1869.5 984,1870.3 986.6,1859.3 989.2,1862.5 991.8,1860.2 994.4,1863.8 997,1863.4 999.6,1865.1 1002.2,1862.7 1004.8,1862.4 1007.4,1858.2 1010,1849.3 1012.6,1850.5 1015.2,1851.3 1017.8,1851.2 1020.4,1848.3 1023,1854.6 1025.6,1852.6 1028.2,1858 1030.8,1856.3 1033.4,1863.5 1036,1858.3 1038.6,1863.8 1041.2,1861.3 1043.8,1867.4 1046.4,1870.5 1049,1863.2 1051.6,1868.3 1054.2,1872.8 1056.8,1872.7 1059.4,1869.2 1062,1876.5 1064.6,1871.9 1067.2,1871.7 1069.8,1866.4 1072.4,1857.8 1075,1855.6 1077.6,1860 1080.2,1850.9 1082.8,1849.7 1085.4,1851.8 1088,1852 1090.6,1854.8 1093.2,1851.8 1095.8,1865.4 1098.4,1867.1 1101,1873.4 1103.6,1881 1106.2,1885.6 1108.8,1886 1111.4,1890.3 1114,1898.8 1116.6,1893.3 1119.2,1888.7 1121.8,1897.9 1124.4,1900.4 1127,1895.7 1129.6,1906.5 1132.2,1899.9 1134.8,1900.4 1137.4,1901.8 1140,1903.9 1142.6,1903.5 1145.2,1897.1 1147.8,1893.6 1150.4,1896.3 1153,1892.7 1155.6,1900.1 1158.2,1897.4 1160.8,1896.2 1163.4,1894.5 1166,1901.5 1168.6,1899.4 1171.2,1896.1 1173.8,1898.7 1176.4,1897.2 1179,1898.7 1181.6,1901.3 1184.2,1896.9 1186.8,1897.9 1189.4,1898.3 1192,1900.2 1194.6,1899 1197.2,1896.7 1199.8,1894 1202.4,1896.3 1205,1892.8 1207.6,1896.9 1210.2,1891.7 1212.8,1897.2 1215.4,1894.2 1218,1892.4 1220.6,1891.7 1223.2,1897.8 1225.8,1889.8 1228.4,1894 1231,1889 1233.6,1893.1 1236.2,1883.7 1238.8,1896 1241.4,1894.7 1244,1894.1 1246.6,1889.7 1249.2,1885.9 1251.8,1895 1254.4,1893.6 1257,1894.9 1259.6,1897.9 1262.2,1896.6 1264.8,1888 1267.4,1888.8 1270,1888.9 1272.6,1889.4 1275.2,1885.8 1277.8,1884.9 1280.4,1888.9 1283,1890.2 1285.6,1893.7 1288.2,1891.9 1290.8,1896.5 1293.4,1887.7 1296,1886.4 1298.6,1891.7 1301.2,1891.3 1303.8,1888.5 1306.4,1893.2 1309,1895.4 1311.6,1896.2 1314.2,1890.9 1316.8,1890.7 1319.4,1891.5 1322,1891 1324.6,1893.7 1327.2,1889.6 1329.8,1891 1332.4,1883.4 1335,1890.5 1337.6,1895.4 1340.2,1890.8 1342.8,1892.6 1345.4,1884.9 1348,1886.8 1350.6,1883.9 1353.2,1888.6 1355.8,1890.5 1358.4,1884.6 1361,1884.6 1363.6,1885.7 1366.2,1895.1 1368.8,1889.5 1371.4,1888 1374,1888.8 1376.6,1888.6 1379.2,1886.7 1381.8,1882.7 1384.4,1883.8 1387,1891.3 1389.6,1888.7 1392.2,1885.5 1394.8,1881.8 1397.4,1884.9 1400,1886 1402.6,1883.8 1405.2,1888 1407.8,1884.4 1410.4,1879 1413,1887.7 1415.6,1886.4 1418.2,1888.6 1420.8,1884.9 1423.4,1883.1 1426,1885.6 1428.6,1885.3 1431.2,1888 1433.8,1886.2 1436.4,1884 1439,1885 1441.6,1885.9 1444.2,1880.4 1446.8,1881.9 1449.4,1881.9 1452,1879.4 1454.6,1875.6 1457.2,1885.5 1459.8,1879.3 1462.4,1881.1 1465,1885.4 1467.6,1882 1470.2,1885.2 1472.8,1876.2 1475.4,1880 1478,1881.8 1480.6,1880.9 1483.2,1876.2 1485.8,1881.8 1488.4,1873.9 1491,1881.7 1493.6,1882 1496.2,1883.5 1498.8,1880 1501.4,1876.3 1504,1877.4 1506.6,1878 1509.2,1881.3 1511.8,1879.3 1514.4,1880.8 1517,1881.5 1519.6,1884.4 1522.2,1874.5 1524.8,1876.7 1527.4,1876.7 1530,1882.1 1532.6,1878.2 1535.2,1878.1 1537.8,1878.8 1540.4,1879.6 1543,1877.5 1545.6,1876.7 1548.2,1875.1 1550.8,1877 1553.4,1883 1556,1877.1 1558.6,1881.2 1561.2,1885.6 1563.8,1880.9 1566.4,1886.3 1569,1880.1 1571.6,1883.8 1574.2,1879.8 1576.8,1874.8 1579.4,1878.7 1582,1884.6 1584.6,1878.1 1587.2,1879.4 1589.8,1875.6 1592.4,1874.8 1595,1879 1597.6,1878 1600.2,1879.8 1602.8,1882.5 1605.4,1875.4 1608,1874.9 1610.6,1877.6 1613.2,1885.2 1615.8,1878.7 1618.4,1876.1 1621,1878.8 1623.6,1884.7 1626.2,1877.5 1628.8,1876.2 1631.4,1877.5 1634,1880 1636.6,1884.9 1639.2,1875.3 1641.8,1871.3 1644.4,1876.6 1647,1879.1 1649.6,1870.8 1652.2,1873.6 1654.8,1879.7 1657.4,1876.3 1660,1878.2 1662.6,1878 1665.2,1879.2 1667.8,1878.8 1670.4,1878.1 1673,1881 1675.6,1876.1 1678.2,1876.7 1680.8,1880.4 1683.4,1875.8 1686,1875.1 1688.6,1874 1691.2,1873.1 1693.8,1882.1 1696.4,1879.5 1699,1882.6 1701.6,1880.1 1704.2,1877.1 1706.8,1875.4 1709.4,1876.7 1712,1876.1 1714.6,1878.8 1717.2,1873.9 1719.8,1875.7 1722.4,1877.3 1725,1875.3 1727.6,1874.7 1730.2,1877 1732.8,1877.6 1735.4,1875.5 1738,1875.1 1740.6,1869.4 1743.2,1871.1 1745.8,1875.1 1748.4,1870 1751,1872.7 1753.6,1876.4 1756.2,1876 1758.8,1872.1 1761.4,1876.1 1764,1876.9 1766.6,1876.7 1769.2,1879.5 1771.8,1874.3 1774.4,1875.7 1777,1873.7 1779.6,1876.8 1782.2,1878.2 1784.8,1876.2 1787.4,1876.3 1790,1866.4 1792.6,1874.8 1795.2,1870.2 1797.8,1879.1 1800.4,1878.5 1803,1869.2 1805.6,1863.4 1808.2,1874.7 1810.8,1870.9 1813.4,1873.4 1816,1868.6 1818.6,1871.3 1821.2,1869.9 1823.8,1873.1 1826.4,1871 1829,1875.8 1831.6,1864 1833.4,1874.5" fill="none" stroke="#008080" stroke-width="2.0" stroke-linejoin="round" />
<polyline points="152,2073.7 154.6,2073.6 157.2,2070.7 159.8,2075.5 162.4,2076.1 165,2070.5 167.6,2071.4 170.2,2063.4 172.8,2068.4 175.4,2078 178,2073.8 180.6,2075.4 183.2,2071 185.8,2074.1 188.4,2070.5 191,2069.8 193.6,2074.5 196.2,2077.8 198.8,2069.1 201.4,2069.6 204,2072.5 206.6,2076.8 209.2,2076.1 211.8,2076.5 214.4,2074.8 217,2070.5 219.6,2072 222.2,2077 224.8,2074.5 227.4,2069.2 230,2076.3 232.6,2075.2 235.2,2075.2 237.8,2079.2 240.4,2072.2 243,2069.7 245.6,2063.8 248.2,2070.6 250.8,2074 253.4,2072.3 256,2071.8 258.6,2074.6 261.2,2073.6 263.8,2073.1 266.4,2071.4 269,2071 271.6,2074.3 274.2,2071.6 276.8,2069.5 279.4,2068.8 282,2069.9 284.6,2071.1 287.2,2072.3 289.8,2071.2 292.4,2069.4 295,2064.8 297.6,2070.8 300.2,2067.4 302.8,2068.4 305.4,2073 308,2070.9 310.6,2066.5 313.2,2070.2 315.8,2068 318.4,2066.3 321,2067.4 323.6,2070.6 326.2,2077.7 328.8,2066 331.4,2065.8 334,2067.7 336.6,2070.6 339.2,2066.1 341.8,2070.3 344.4,2067 347,2062.9 349.6,2063.7 352.2,2064.3 354.8,2063.8 357.4,2062 360,2062.6 362.6,2066.3 365.2,2066.7 367.8,2069.5 370.4,2061.5 373,2058.4 375.6,2067.8 378.2,2064.5 380.8,2062.8 383.4,2058.5 386,2061.1 388.6,2060.6 391.2,2059.9 393.8,2063.1 396.4,2057.4 399,2058.4 401.6,2052.8 404.2,2057.8 406.8,2054.2 409.4,2061.7 412,2053.8 414.6,2059.8 417.2,2053.7 419.8,2048.7 422.4,2053 425,2053.7 427.6,2049.3 430.2,2046.7 432.8,2042.2 435.4,2047 438,2050 440.6,2043.2 443.2,2048.4 445.8,2055 448.4,2045.9 451,2050.9 453.6,2053 456.2,2051.7 458.8,2058.5 461.4,2053.4 464,2067.7 466.6,2077.1 469.2,2075.8 471.8,2075.7 474.4,2066.7 477,2086.7 479.6,2092 482.2,2085.7 484.8,2086.6 487.4,2087.5 490,2092.8 492.6,2085.8 495.2,2091.4 497.8,2084 500.4,2090.8 503,2088.7 505.6,2094 508.2,2093.2 510.8,2089 513.4,2087.7 516,2080.2 518.6,2094.8 521.2,2095.1 523.8,2089.4 526.4,2085.8 529,2091 531.6,2090.9 534.2,2088.9 536.8,2090.4 539.4,2092.5 542,2090.8 544.6,2092.3 547.2,2090.8 549.8,2091.2 552.4,2088.8 555,2092.3 557.6,2091.4 560.2,2089.4 562.8,2090.6 565.4,2089.6 568,2089.4 570.6,2085.1 573.2,2093.3 575.8,2085.7 578.4,2088.3 581,2090.2 583.6,2086.7 586.2,2090.6 588.8,2089.7 591.4,2088.2 594,2084.1 596.6,2084.1 599.2,2089.2 601.8,2095.6 604.4,2089.9 607,2082.9 609.6,2091.8 612.2,2091 614.8,2093.2 617.4,2088.3 620,2091.4 622.6,2090.9 625.2,2085.4 627.8,2086.8 630.4,2088.9 633,2086 635.6,2091.6 638.2,2088.2 640.8,2090.8 643.4,2088.2 646,2090 648.6,2090.3 651.2,2082.5 653.8,2085.6 656.4,2089.9 659,2087.2 661.6,2092 664.2,2092.7 666.8,2086 669.4,2087.2 672,2089.1 674.6,2085.4 677.2,2091.7 679.8,2090.7 682.4,2087.7 685,2084.3 687.6,2083.3 690.2,2083.5 692.8,2088.3 695.4,2084.2 698,2088.3 700.6,2094 703.2,2083.5 705.8,2082.6 708.4,2088.5 711,2087.1 713.6,2082.7 716.2,2084.1 718.8,2084.6 721.4,2086.9 724,2082.3 726.6,2082.7 729.2,2083.5 731.8,2084.9 734.4,2083.3 737,2078.8 739.6,2078.1 742.2,2086 744.8,2078.2 747.4,2082.8 750,2082.9 752.6,2083.7 755.2,2086.9 757.8,2083.4 760.4,2084.5 763,2083.4 765.6,2081.6 768.2,2076.3 770.8,2076.5 773.4,2080.5 776,2076.9 778.6,2075 781.2,2074.4 783.8,2070.8 786.4,2070.9 789,2071.7 791.6,2076.2 794.2,2076.4 796.8,2084.5 799.4,2088.6 802,2087.1 804.6,2084.2 807.2,2090.5 809.8,2091.1 812.4,2085.2 815,2086.3 817.6,2086 820.2,2084.4 822.8,2089.7 825.4,2097.4 828,2086.4 830.6,2091.9 833.2,2091.8 835.8,2088 838.4,2094.5 841,2095 843.6,2092.4 846.2,2090 848.8,2093.3 851.4,2097.7 854,2084.5 856.6,2088.4 859.2,2090.5 861.8,2088.9 864.4,2089.8 867,2094.2 869.6,2093.6 872.2,2091.5 874.8,2091.5 877.4,2089.3 880,2093.4 882.6,2090.7 885.2,2087.8 887.8,2089.1 890.4,2091.2 893,2096.2 895.6,2092.6 898.2,2090.3 900.8,2097.9 903.4,2093.1 906,2095.6 908.6,2093.9 911.2,2093.8 913.8,2088.4 916.4,2091.5 919,2090 921.6,2087.3 924.2,2091.4 926.8,2090.7 929.4,2091.1 932,2094 934.6,2084.6 937.2,2089.8 939.8,2086 942.4,2084 945,2089 947.6,2088.8 950.2,2082.8 952.8,2088 955.4,2085.3 958,2094 960.6,2094.1 963.2,2090.5 965.8,2085 968.4,2088 971,2090.9 973.6,2092.2 976.2,2093.1 978.8,2090.9 981.4,2091.1 984,2088.4 986.6,2088.2 989.2,2086 991.8,2092.9 994.4,2086.6 997,2087.2 999.6,2088.5 1002.2,2091.4 1004.8,2090.1 1007.4,2097.2 1010,2092.1 1012.6,2087.6 1015.2,2088.6 1017.8,2088 1020.4,2088.9 1023,2090.6 1025.6,2094.5 1028.2,2095.2 1030.8,2092.6 1033.4,2087 1036,2090.4 1038.6,2087.7 1041.2,2088.8 1043.8,2091.1 1046.4,2090 1049,2096.2 1051.6,2091.5 1054.2,2088.7 1056.8,2088.7 1059.4,2092.5 1062,2084.4 1064.6,2084.7 1067.2,2082.2 1069.8,2083 1072.4,2077.7 1075,2079.7 1077.6,2085.2 1080.2,2082.8 1082.8,2089 1085.4,2086.8 1088,2088.9 1090.6,2087.9 1093.2,2093.4 1095.8,2095.6 1098.4,2095.6 1101,2098.8 1103.6,2096.1 1106.2,2102.7 1108.8,2099.4 1111.4,2095.1 1114,2096 1116.6,2097.1 1119.2,2093.8 1121.8,2093.3 1124.4,2101.7 1127,2100.3 1129.6,2101 1132.2,2105.7 1134.8,2101.7 1137.4,2095.9 1140,2099.8 1142.6,2096.3 1145.2,2100.9 1147.8,2100.8 1150.4,2102 1153,2096.2 1155.6,2091.7 1158.2,2097.3 1160.8,2100.2 1163.4,2098.2 1166,2096.2 1168.6,2095.8 1171.2,2095.6 1173.8,2093.6 1176.4,2093 1179,2094.8 1181.6,2098.3 1184.2,2097 1186.8,2094.9 1189.4,2094.6 1192,2097.1 1194.6,2098.7 1197.2,2091.8 1199.8,2101.4 1202.4,2098.5 1205,2095.8 1207.6,2092 1210.2,2092.2 1212.8,2097 1215.4,2097 1218,2089.5 1220.6,2090.5 1223.2,2093.4 1225.8,2091.4 1228.4,2099.4 1231,2099.3 1233.6,2093.7 1236.2,2088.9 1238.8,2093.1 1241.4,2092.8 1244,2092 1246.6,2089.7 1249.2,2094.7 1251.8,2090.1 1254.4,2096.8 1257,2096.6 1259.6,2092.4 1262.2,2093.1 1264.8,2091 1267.4,2092.6 1270,2089.8 1272.6,2093.9 1275.2,2086.5 1277.8,2091.8 1280.4,2092.5 1283,2094.4 1285.6,2089.8 1288.2,2091.8 1290.8,2094 1293.4,2092 1296,2092.1 1298.6,2091.6 1301.2,2090.2 1303.8,2089.6 1306.4,2086.5 1309,2090.8 1311.6,2091.4 1314.2,2095.9 1316.8,2089.7 1319.4,2095.1 1322,2090.9 1324.6,2084.6 1327.2,2088.7 1329.8,2094.6 1332.4,2091.4 1335,2092.6 1337.6,2093.8 1340.2,2088.6 1342.8,2090.8 1345.4,2089.9 1348,2093.6 1350.6,2083.3 1353.2,2086.7 1355.8,2085.9 1358.4,2088.2 1361,2090.6 1363.6,2090.4 1366.2,2089.3 1368.8,2091.8 1371.4,2087.5 1374,2086 1376.6,2090 1379.2,2085.2 1381.8,2088.7 1384.4,2090.1 1387,2089.4 1389.6,2085.1 1392.2,2087.7 1394.8,2094.9 1397.4,2095.9 1400,2087.1 1402.6,2087.1 1405.2,2086.5 1407.8,2083.3 1410.4,2082.4 1413,2086.5 1415.6,2091.6 1418.2,2091.6 1420.8,2092.3 1423.4,2094.6 1426,2087.1 1428.6,2086.3 1431.2,2082.5 1433.8,2085.1 1436.4,2088.2 1439,2091 1441.6,2084.5 1444.2,2084.1 1446.8,2085.8 1449.4,2085.9 1452,2081.7 1454.6,2087.2 1457.2,2085.9 1459.8,2078.6 1462.4,2084.1 1465,2085.4 1467.6,2084.3 1470.2,2085.3 1472.8,2089.9 1475.4,2086.9 1478,2087.3 1480.6,2086.4 1483.2,2081.5 1485.8,2079.1 1488.4,2086 1491,2083.8 1493.6,2084.4 1496.2,2083.2 1498.8,2081 1501.4,2088.6 1504,2094.9 1506.6,2091.7 1509.2,2082.6 1511.8,2083 1514.4,2085.9 1517,2081.9 1519.6,2083.6 1522.2,2085.9 1524.8,2091 1527.4,2081.5 1530,2084 1532.6,2081.4 1535.2,2077 1537.8,2085.1 1540.4,2079.4 1543,2082.2 1545.6,2086.8 1548.2,2085.7 1550.8,2083.8 1553.4,2087.6 1556,2083.9 1558.6,2082 1561.2,2088 1563.8,2085.8 1566.4,2082 1569,2080 1571.6,2081.7 1574.2,2087.1 1576.8,2083.3 1579.4,2084.1 1582,2088.6 1584.6,2089.6 1587.2,2080.8 1589.8,2086.7 1592.4,2077 1595,2083.7 1597.6,2080 1600.2,2080.4 1602.8,2081.4 1605.4,2081.1 1608,2082.9 1610.6,2082.1 1613.2,2088.7 1615.8,2084 1618.4,2079.9 1621,2082.9 1623.6,2081.1 1626.2,2082.6 1628.8,2081.6 1631.4,2082.8 1634,2084.1 1636.6,2086 1639.2,2087.8 1641.8,2086.1 1644.4,2083 1647,2080.9 1649.6,2078.9 1652.2,2086.3 1654.8,2082.4 1657.4,2081.1 1660,2082.8 1662.6,2085.1 1665.2,2087.8 1667.8,2085.3 1670.4,2079 1673,2083 1675.6,2082 1678.2,2080.1 1680.8,2084.8 1683.4,2082.3 1686,2081.7 1688.6,2084.3 1691.2,2084 1693.8,2084 1696.4,2083 1699,2080.2 1701.6,2079.6 1704.2,2080.8 1706.8,2081.5 1709.4,2084.4 1712,2072.5 1714.6,2080.7 1717.2,2073.8 1719.8,2077.1 1722.4,2084.5 1725,2079.8 1727.6,2079.1 1730.2,2080.2 1732.8,2078.1 1735.4,2080.7 1738,2083.5 1740.6,2077.9 1743.2,2079.9 1745.8,2077.8 1748.4,2084.2 1751,2076.7 1753.6,2077.7 1756.2,2080.8 1758.8,2080.9 1761.4,2078.5 1764,2081.1 1766.6,2079.3 1769.2,2081.8 1771.8,2076.5 1774.4,2077.4 1777,2083.1 1779.6,2085.4 1782.2,2085.8 1784.8,2078.1 1787.4,2088 1790,2082.5 1792.6,2087.2 1795.2,2083.6 1797.8,2073.6 1800.4,2080.5 1803,2079.4 1805.6,2080.8 1808.2,2078.2 1810.8,2079.8 1813.4,2080.3 1816,2076.9 1818.6,2080.1 1821.2,2077.5 1823.8,2071.5 1826.4,2074.9 1829,2079.7 1831.6,2078.5 1833.4,2073.3" fill="none" stroke="#0000ff" stroke-width="2.0" stroke-linejoin="round" />
<polyline points="152,2251.6 154.6,2253 157.2,2252.6 159.8,2247.6 162.4,2254.7 165,2255.3 167.6,2252.9 170.2,2250.3 172.8,2253.9 175.4,2249.7 178,2252.5 180.6,2255.6 183.2,2254.1 185.8,2251.9 188.4,2251.6 191,2251.9 193.6,2256.2 196.2,2258.6 198.8,2254.6 201.4,2252.8 204,2251.1 206.6,2249 209.2,2250.2 211.8,2245.2 214.4,2247.8 217,2252.6 219.6,2255.3 222.2,2246.9 224.8,2248.6 227.4,2254.4 230,2251.7 232.6,2250.3 235.2,2251.8 237.8,2244.8 240.4,2248.2 243,2254.9 245.6,2249 248.2,2254.7 250.8,2251.4 253.4,2251 256,2250.2 258.6,2250.8 261.2,2248.9 263.8,2243.1 266.4,2252.8 269,2249.3 271.6,2251.7 274.2,2250.8 276.8,2247.8 279.4,2240.8 282,2237.7 284.6,2246.5 287.2,2248.5 289.8,2247.1 292.4,2242.8 295,2251.6 297.6,2248.4 300.2,2253.5 302.8,2248.9 305.4,2251.9 308,2245.9 310.6,2245.1 313.2,2247.6 315.8,2242.3 318.4,2244.2 321,2248.6 323.6,2245.8 326.2,2240.6 328.8,2241.8 331.4,2245.8 334,2245.4 336.6,2241.4 339.2,2240.5 341.8,2238.8 344.4,2245.3 347,2250.3 349.6,2239.5 352.2,2238.1 354.8,2248.3 357.4,2241.3 360,2243.8 362.6,2239.4 365.2,2238.5 367.8,2243.2 370.4,2243.3 373,2244 375.6,2242.6 378.2,2243.3 380.8,2240.3 383.4,2235.8 386,2244.4 388.6,2240.9 391.2,2236.5 393.8,2233.4 396.4,2237.1 399,2237.7 401.6,2236.5 404.2,2238.3 406.8,2240.7 409.4,2232 412,2237.5 414.6,2239.9 417.2,2235.7 419.8,2241.7 422.4,2235 425,2236.3 427.6,2233.3 430.2,2231.7 432.8,2233.6 435.4,2234.9 438,2238.1 440.6,2234.2 443.2,2236 445.8,2232.5 448.4,2231 451,2226.7 453.6,2228.3 456.2,2234.5 458.8,2238.8 461.4,2238.1 464,2244.9 466.6,2243 469.2,2251.1 471.8,2253.6 474.4,2254.1 477,2262.2 479.6,2258 482.2,2258.8 484.8,2267.2 487.4,2268.3 490,2267.7 492.6,2270 495.2,2273.6 497.8,2273.8 500.4,2271.5 503,2269.4 505.6,2265.8 508.2,2274.5 510.8,2275.1 513.4,2267.1 516,2265.7 518.6,2265.1 521.2,2259.4 523.8,2266.7 526.4,2264.9 529,2263.1 531.6,2264 534.2,2257.2 536.8,2256.5 539.4,2260.1 542,2261.9 544.6,2266 547.2,2270.7 549.8,2270.3 552.4,2269.9 555,2271.2 557.6,2268.8 560.2,2268.9 562.8,2267.5 565.4,2264.3 568,2261 570.6,2261.7 573.2,2263.1 575.8,2269.2 578.4,2267.1 581,2267.8 583.6,2266.7 586.2,2263.1 588.8,2260.4 591.4,2262.9 594,2263.7 596.6,2265.7 599.2,2266.5 601.8,2264.7 604.4,2257.1 607,2262.9 609.6,2260.4 612.2,2257 614.8,2264.2 617.4,2268 620,2262.3 622.6,2261.4 625.2,2261 627.8,2263.7 630.4,2262.1 633,2257.1 635.6,2261.2 638.2,2264.4 640.8,2261.6 643.4,2263 646,2264.5 648.6,2261.9 651.2,2262.7 653.8,2260.9 656.4,2258.2 659,2266.2 661.6,2265.5 664.2,2261.3 666.8,2260.6 669.4,2260.9 672,2255.8 674.6,2258.7 677.2,2260 679.8,2258.7 682.4,2261.7 685,2259.4 687.6,2254.3 690.2,2260.8 692.8,2263.6 695.4,2262.1 698,2258.6 700.6,2257.1 703.2,2261.4 705.8,2256.4 708.4,2258.5 711,2261.5 713.6,2261.4 716.2,2262.4 718.8,2257.5 721.4,2253.3 724,2254.4 726.6,2256.5 729.2,2259.9 731.8,2255.4 734.4,2252.8 737,2259.7 739.6,2257.9 742.2,2251.7 744.8,2254.2 747.4,2258.5 750,2256.6 752.6,2253.9 755.2,2253.1 757.8,2251.5 760.4,2254 763,2253.6 765.6,2255.7 768.2,2254.1 770.8,2253 773.4,2249.5 776,2251.6 778.6,2251.1 781.2,2251.6 783.8,2253.5 786.4,2255.2 789,2255.9 791.6,2252.6 794.2,2252.5 796.8,2255.4 799.4,2258.1 802,2260.9 804.6,2261.3 807.2,2262.9 809.8,2258.2 812.4,2258 815,2260.6 817.6,2266.5 820.2,2271.5 822.8,2266.1 825.4,2259.5 828,2262.5 830.6,2267.5 833.2,2266.2 835.8,2264.9 838.4,2263.2 841,2266.2 843.6,2266.8 846.2,2265.7 848.8,2261.5 851.4,2267.8 854,2266.9 856.6,2264.4 859.2,2264.8 861.8,2266.8 864.4,2264.8 867,2265.2 869.6,2265.7 872.2,2264.2 874.8,2264.8 877.4,2265.2 880,2275 882.6,2269.2 885.2,2265.1 887.8,2269.3 890.4,2267.5 893,2262.7 895.6,2267.9 898.2,2268.2 900.8,2261.9 903.4,2265.5 906,2264.8 908.6,2272.1 911.2,2267 913.8,2271.8 916.4,2267.1 919,2265.7 921.6,2266 924.2,2266.1 926.8,2266 929.4,2266.9 932,2268.9 934.6,2263.6 937.2,2259.2 939.8,2263 942.4,2262.6 945,2263.2 947.6,2263.9 950.2,2258.2 952.8,2265.4 955.4,2268.6 958,2266.1 960.6,2266.3 963.2,2268.3 965.8,2258.9 968.4,2262.5 971,2258.5 973.6,2258.8 976.2,2262.7 978.8,2262.4 981.4,2261.7 984,2268.9 986.6,2261.2 989.2,2263 991.8,2262.1 994.4,2261.1 997,2261 999.6,2260.6 1002.2,2261.2 1004.8,2266.8 1007.4,2261.6 1010,2257.8 1012.6,2247.5 1015.2,2253.6 1017.8,2254.8 1020.4,2251.8 1023,2255.3 1025.6,2247.4 1028.2,2253.5 1030.8,2258.3 1033.4,2255.3 1036,2256.5 1038.6,2255.2 1041.2,2266.5 1043.8,2262.5 1046.4,2265.7 1049,2261.9 1051.6,2270.5 1054.2,2268.3 1056.8,2262.8 1059.4,2266.5 1062,2267.7 1064.6,2260.7 1067.2,2257.8 1069.8,2255.8 1072.4,2254.9 1075,2254.5 1077.6,2246 1080.2,2245.6 1082.8,2250.9 1085.4,2248.6 1088,2257.1 1090.6,2260 1093.2,2258.7 1095.8,2253.1 1098.4,2261.9 1101,2264.1 1103.6,2272.5 1106.2,2270.9 1108.8,2273.6 1111.4,2278 1114,2281.7 1116.6,2274.3 1119.2,2274.8 1121.8,2281.6 1124.4,2278.4 1127,2277.1 1129.6,2280.9 1132.2,2280.3 1134.8,2276.2 1137.4,2279.4 1140,2281.9 1142.6,2276.2 1145.2,2276.4 1147.8,2278.3 1150.4,2278.3 1153,2273.3 1155.6,2275.8 1158.2,2276.1 1160.8,2277.6 1163.4,2278.5 1166,2273.7 1168.6,2267 1171.2,2277 1173.8,2275.2 1176.4,2275.7 1179,2276.1 1181.6,2278 1184.2,2266.4 1186.8,2269.3 1189.4,2272.4 1192,2267.4 1194.6,2273 1197.2,2272.7 1199.8,2268.1 1202.4,2276.8 1205,2270.9 1207.6,2273.1 1210.2,2273.9 1212.8,2272.7 1215.4,2268.8 1218,2271.1 1220.6,2272 1223.2,2267.9 1225.8,2272.1 1228.4,2268.2 1231,2265.5 1233.6,2276.2 1236.2,2271.6 1238.8,2274.8 1241.4,2267.2 1244,2272.4 1246.6,2272 1249.2,2267.2 1251.8,2265.8 1254.4,2268.5 1257,2267.1 1259.6,2270.8 1262.2,2271.5 1264.8,2270 1267.4,2271.4 1270,2272.2 1272.6,2267.5 1275.2,2271.1 1277.8,2271.4 1280.4,2270.3 1283,2269.1 1285.6,2267.6 1288.2,2262.7 1290.8,2265.5 1293.4,2273.6 1296,2266.4 1298.6,2269.2 1301.2,2267 1303.8,2264.6 1306.4,2268 1309,2268.1 1311.6,2266.9 1314.2,2263.5 1316.8,2270.7 1319.4,2268.3 1322,2267.6 1324.6,2263.7 1327.2,2262.7 1329.8,2260.2 1332.4,2259.2 1335,2262.9 1337.6,2262.1 1340.2,2269.5 1342.8,2271.9 1345.4,2268.1 1348,2264.3 1350.6,2262.6 1353.2,2260.8 1355.8,2266.3 1358.4,2265.6 1361,2256.4 1363.6,2265.2 1366.2,2266.8 1368.8,2266.3 1371.4,2265.2 1374,2268.6 1376.6,2265.3 1379.2,2258.4 1381.8,2264.1 1384.4,2267.7 1387,2269 1389.6,2261.3 1392.2,2263.4 1394.8,2265.5 1397.4,2263.4 1400,2260.1 1402.6,2265.8 1405.2,2263.5 1407.8,2263.7 1410.4,2264.1 1413,2268.3 1415.6,2264.1 1418.2,2261.1 1420.8,2263.1 1423.4,2266.1 1426,2264.6 1428.6,2262.8 1431.2,2264.3 1433.8,2264 1436.4,2258.6 1439,2258.6 1441.6,2252.3 1444.2,2263.2 1446.8,2263.4 1449.4,2265.2 1452,2260.2 1454.6,2263.6 1457.2,2264.1 1459.8,2263.5 1462.4,2263.2 1465,2259.6 1467.6,2260.3 1470.2,2267.8 1472.8,2262.2 1475.4,2263.2 1478,2264.2 1480.6,2262.6 1483.2,2260.8 1485.8,2256.3 1488.4,2259.3 1491,2261.1 1493.6,2260.7 1496.2,2265 1498.8,2261.3 1501.4,2258.3 1504,2262.3 1506.6,2262.3 1509.2,2262.9 1511.8,2266.9 1514.4,2259.1 1517,2258.2 1519.6,2257.6 1522.2,2260.7 1524.8,2256.5 1527.4,2261.1 1530,2263.8 1532.6,2259.5 1535.2,2260.8 1537.8,2259.9 1540.4,2258.1 1543,2258 1545.6,2253.7 1548.2,2257 1550.8,2265.8 1553.4,2263.5 1556,2263.7 1558.6,2262.1 1561.2,2260.5 1563.8,2262.5 1566.4,2260.5 1569,2259.4 1571.6,2259.8 1574.2,2266 1576.8,2262.2 1579.4,2265.7 1582,2259.1 1584.6,2263.7 1587.2,2263.1 1589.8,2262.2 1592.4,2262.6 1595,2260.9 1597.6,2254.7 1600.2,2256.8 1602.8,2263.8 1605.4,2260.1 1608,2258.7 1610.6,2257.8 1613.2,2263.4 1615.8,2266 1618.4,2260.2 1621,2260.1 1623.6,2256 1626.2,2259.5 1628.8,2261.4 1631.4,2256.3 1634,2260.4 1636.6,2260.2 1639.2,2266.4 1641.8,2256.6 1644.4,2260.4 1647,2261 1649.6,2257.9 1652.2,2261 1654.8,2259.2 1657.4,2256.9 1660,2260.1 1662.6,2259.9 1665.2,2259.4 1667.8,2255.1 1670.4,2264.2 1673,2262.9 1675.6,2261.5 1678.2,2258.4 1680.8,2259.9 1683.4,2256.1 1686,2258.1 1688.6,2258.5 1691.2,2260.8 1693.8,2262.5 1696.4,2261.3 1699,2258.9 1701.6,2255.8 1704.2,2258.7 1706.8,2261.1 1709.4,2262.2 1712,2251 1714.6,2256.9 1717.2,2255.9 1719.8,2258.9 1722.4,2259 1725,2259.8 1727.6,2256.4 1730.2,2258.8 1732.8,2264.6 1735.4,2260.6 1738,2262 1740.6,2261.3 1743.2,2260.3 1745.8,2259.3 1748.4,2259.4 1751,2253.5 1753.6,2257.5 1756.2,2262.9 1758.8,2265.1 1761.4,2256.1 1764,2251.8 1766.6,2254 1769.2,2260.6 1771.8,2260.7 1774.4,2258.3 1777,2255.8 1779.6,2248.3 1782.2,2253.8 1784.8,2260.4 1787.4,2264.3 1790,2257.7 1792.6,2251.9 1795.2,2264 1797.8,2261.9 1800.4,2258.3 1803,2252.3 1805.6,2262.6 1808.2,2262.1 1810.8,2260.7 1813.4,2257.3 1816,2254.8 1818.6,2254 1821.2,2259.9 1823.8,2260.6 1826.4,2258.6 1829,2258 1831.6,2256 1833.4,2260.7" fill="none" stroke="#ff0000" stroke-width="2.0" stroke-linejoin="round" />
<polyline points="152,2553.6 154.6,2555 157.2,2554.6 159.8,2549.6 162.4,2556.7 165,2557.3 167.6,2554.9 170.2,2552.3 172.8,2555.9 175.4,2551.7 178,2554.5 180.6,2557.6 183.2,2556.1 185.8,2553.9 188.4,2553.6 191,2553.9 193.3,2553.4 194.5,2517.5 195.5,2516 198.5,2516 199.5,2517.5 200.9,2559.4 201.4,2554.8 204,2553.1 206.6,2551 209.2,2552.2 211.8,2547.2 214.4,2549.8 217,2554.6 219.6,2557.3 222.2,2548.9 224.8,2550.6 227.4,2556.4 230,2553.7 232.6,2552.3 235.2,2553.8 237.8,2546.8 240.4,2550.2 243,2556.9 245.6,2551 248.2,2556.7 250.8,2553.4 253.4,2553 256,2552.2 258.6,2552.8 261.2,2550.9 263.8,2545.1 266.4,2554.8 269,2551.3 271.6,2553.7 274.2,2552.8 276.8,2549.8 279.4,2542.8 282,2539.7 284.6,2548.5 287.2,2550.5 289.8,2549.1 292.4,2544.8 295,2553.6 297.6,2550.4 300.2,2555.5 302.8,2550.9 305.4,2553.9 308,2547.9 310.6,2547.1 313.2,2549.6 315.8,2544.3 318.4,2546.2 321,2550.6 323.6,2547.8 326.2,2542.6 328.8,2543.8 331.4,2547.8 334,2547.4 336.6,2543.4 339.2,2542.5 341.8,2540.8 344.4,2547.3 347,2552.3 349.6,2541.5 352.2,2540.1 352.8,2543.5 354,2518.5 355,2517 358,2517 359,2518.5 360.4,2549.5 362.6,2541.4 365.2,2540.5 367.8,2545.2 370.4,2545.3 373,2546 375.6,2544.6 378.2,2545.3 380.8,2542.3 383.4,2537.8 386,2546.4 388.6,2542.9 391.2,2538.5 393.8,2535.4 396.4,2539.1 399,2539.7 401.6,2538.5 404.2,2540.3 406.8,2542.7 409.4,2534 412,2539.5 414.6,2541.9 417.2,2537.7 419.8,2543.7 422.4,2537 425,2538.3 427.6,2535.3 430.2,2533.7 432.8,2535.6 435.4,2536.9 438,2540.1 440.6,2536.2 443.2,2538 445.8,2534.5 448.4,2533 451,2528.7 453.6,2530.3 456.2,2536.5 458.8,2540.8 461.4,2540.1 464,2546.9 466.6,2545 469.2,2553.1 471.8,2555.6 474.4,2556.1 477,2564.2 479.6,2560 482.2,2560.8 484.8,2569.2 487.4,2570.3 490,2569.7 492.6,2572 495.2,2575.6 497.8,2575.8 500.4,2573.5 503,2571.4 505.6,2567.8 508.2,2576.5 510.8,2577.1 513.4,2569.1 516,2567.7 518.6,2567.1 521.2,2561.4 523.8,2568.7 526.4,2566.9 529,2565.1 531.6,2566 534.2,2559.2 536.8,2558.5 539.4,2562.1 542,2563.9 544.6,2568 547.2,2572.7 549.8,2572.3 552.4,2571.9 555,2573.2 557.6,2570.8 560.2,2570.9 562.8,2569.5 565.4,2566.3 568,2563 570.6,2563.7 573.2,2565.1 575.8,2571.2 578.4,2569.1 581,2569.8 583.6,2568.7 586.2,2565.1 588.8,2562.4 591.4,2564.9 594,2565.7 596.6,2567.7 599.2,2568.5 601.8,2566.7 604.4,2559.1 607,2564.9 609.6,2562.4 612.2,2559 614.8,2566.2 617.4,2570 620,2564.3 622.6,2563.4 625.2,2563 627.8,2565.7 630.4,2564.1 633,2559.1 635.6,2563.2 638.2,2566.4 640.8,2563.6 643.4,2565 646,2566.5 648.6,2563.9 651.2,2564.7 653.8,2562.9 656.4,2560.2 659,2568.2 661.6,2567.5 664.2,2563.3 666.8,2562.6 669.4,2562.9 672,2557.8 674.6,2560.7 677.2,2562 679.8,2560.7 682.4,2563.7 685,2561.4 687.6,2556.3 690.2,2562.8 692.8,2565.6 695.4,2564.1 698,2560.6 700.6,2559.1 703.2,2563.4 705.8,2558.4 708.4,2560.5 711,2563.5 713.6,2563.4 716.2,2564.3 718.8,2559.4 721.4,2557.2 724,2558.4 726.6,2559.4 729.2,2559.5 731.8,2559.6 734.4,2559.6 737,2559.6 739.6,2559.6 742.2,2559.7 744.8,2559.7 747.4,2559.7 750,2559.7 752.6,2559.8 755.2,2559.8 757.8,2559.8 760.4,2559.8 763,2559.9 765.6,2559.9 768.2,2559.9 770.8,2559.9 773.4,2560 776,2560 778.6,2560 781.2,2560.1 783.8,2560.1 786.4,2560.1 789,2560.1 791.6,2560.2 794.2,2560.2 796.8,2560.2 799.4,2560.2 802,2560.3 804.6,2560.3 807.2,2560.3 809.8,2560.3 812.4,2560.4 815,2560.4 817.6,2560.4 820.2,2560.4 822.8,2560.5 825.4,2560.6 828,2561.8 830.6,2565.5 833.2,2566.4 835.8,2566.8 838.4,2565.2 841,2568.2 843.6,2568.8 846.2,2567.7 848.8,2563.5 851.4,2569.8 854,2568.9 856.6,2566.4 859.2,2566.8 861.8,2568.8 864.4,2566.8 867,2567.2 869.6,2567.7 872.2,2566.2 874.8,2566.8 877.4,2567.2 880,2577 882.6,2571.2 885.2,2567.1 887.8,2571.3 890.4,2569.5 893,2564.7 895.6,2569.9 898.2,2570.2 900.8,2563.9 903.4,2567.5 906,2566.8 908.6,2574.1 911.2,2569 913.8,2573.8 916.4,2569.1 919,2567.7 921.6,2568 924.2,2568.1 926.8,2568 929.4,2568.9 932,2570.9 934.6,2565.6 937.2,2561.2 939.8,2565 942.4,2564.6 945,2565.2 947.6,2565.9 950.2,2560.2 952.8,2567.4 955.4,2570.6 958,2568.1 960.6,2568.3 963.2,2570.3 965.8,2560.9 968.4,2564.5 971,2560.5 973.6,2560.8 976.2,2564.7 978.8,2564.4 981.4,2563.7 984,2570.9 986.6,2563.2 989.2,2565 991.8,2564.1 994.4,2563.1 997,2563 999.6,2562.6 1002.2,2563.2 1004.8,2568.8 1007.4,2563.6 1010,2559.8 1012.6,2549.5 1015.2,2555.6 1017.8,2556.8 1020.4,2553.8 1023,2557.3 1025.6,2549.4 1028.2,2555.5 1030.8,2560.3 1033.4,2557.3 1036,2558.5 1038.6,2557.2 1041.2,2568.5 1043.8,2564.5 1046.4,2567.7 1049,2563.9 1051.6,2572.5 1054.2,2570.3 1056.8,2564.8 1059.4,2568.5 1062,2569.7 1064.6,2562.7 1067.2,2559.8 1069.8,2557.8 1072.4,2556.9 1075,2556.5 1077.6,2548 1080.2,2547.6 1082.8,2552.9 1085.4,2550.6 1088,2559.1 1090.6,2562 1093.2,2560.7 1095.8,2555.1 1098.4,2563.9 1101,2566.1 1103.6,2574.5 1106.2,2572.9 1108.8,2575.6 1111.4,2580 1114,2583.7 1116.6,2576.3 1119.2,2576.8 1121.8,2583.6 1124.4,2580.4 1127,2579.1 1129.6,2582.9 1132.2,2582.3 1134.8,2578.2 1137.4,2581.4 1140,2583.9 1142.6,2578.2 1145.2,2578.4 1147.8,2580.3 1150.4,2580.3 1153,2575.3 1155.6,2577.8 1158.2,2578.1 1160.8,2579.6 1163.4,2580.5 1166,2575.7 1168.6,2569 1171.2,2579 1173.8,2577.2 1176.4,2577.7 1179,2578.1 1181.6,2580 1184.2,2568.4 1186.8,2571.3 1189.4,2574.4 1192,2569.4 1194.6,2575 1197.2,2574.7 1199.8,2570.1 1202.4,2578.8 1205,2572.9 1207.6,2575.1 1210.2,2575.9 1212.8,2574.7 1215.4,2570.8 1218,2573.1 1220.6,2574 1223.2,2569.9 1225.8,2574.1 1228.4,2570.2 1231,2567.5 1233.6,2578.2 1236.2,2573.6 1238.8,2576.8 1241.4,2569.2 1244,2574.4 1246.6,2574 1249.2,2569.2 1251.8,2567.8 1254.4,2570.5 1257,2569.1 1259.6,2572.8 1262.2,2573.5 1264.8,2572 1267.4,2573.4 1270,2574.2 1272.6,2569.5 1275.2,2573.1 1277.8,2573.4 1280.4,2572.3 1283,2571.1 1285.6,2569.6 1288.2,2564.7 1290.8,2567.5 1293.4,2575.6 1296,2568.4 1298.6,2571.2 1301.2,2569 1303.8,2566.6 1306.4,2570 1309,2570.1 1311.6,2568.9 1314.2,2565.5 1316.8,2572.7 1319.4,2570.3 1322,2569.6 1324.6,2565.7 1327.2,2564.7 1329.8,2562.2 1332.4,2561.2 1335,2564.9 1337.6,2564.1 1340.2,2571.5 1342.8,2573.9 1345.4,2570.1 1348,2566.3 1350.6,2564.6 1353.2,2562.8 1355.8,2568.3 1358.4,2567.6 1361,2558.4 1363.6,2567.2 1366.2,2568.8 1368.8,2568.3 1371.4,2567.2 1374,2570.6 1376.6,2567.3 1379.2,2560.4 1381.8,2566.1 1384.4,2569.7 1387,2571 1389.6,2563.3 1392.2,2565.4 1394.8,2567.5 1397.4,2565.4 1400,2562.1 1402.6,2567.8 1405.2,2565.5 1407.8,2565.7 1410.4,2566.1 1413,2570.3 1415.6,2566.1 1418.2,2563.1 1420.8,2565.1 1423.4,2568.1 1426,2566.6 1428.6,2564.8 1431.2,2566.3 1433.8,2566 1436.4,2560.6 1439,2560.6 1441.6,2554.3 1444.2,2565.2 1446.8,2565.4 1449.4,2567.2 1452,2562.2 1454.6,2565.6 1457.2,2566.1 1459.8,2565.5 1462.4,2565.2 1465,2561.6 1467.6,2562.3 1470.2,2569.8 1472.8,2564.2 1475.4,2565.2 1478,2566.2 1480.6,2564.6 1483.2,2562.8 1485.8,2558.3 1488.4,2561.3 1491,2563.1 1493.6,2562.7 1496.2,2567 1498.8,2563.3 1501.4,2560.3 1504,2564.3 1506.6,2564.3 1509.2,2564.9 1511.8,2568.9 1514.4,2561.1 1517,2560.2 1519.6,2559.6 1522.2,2562.7 1524.8,2558.5 1527.4,2563.1 1530,2565.8 1532.6,2561.5 1535.2,2562.8 1537.8,2561.9 1540.4,2560.1 1543,2560 1545.6,2555.7 1548.2,2559 1550.8,2567.8 1553.4,2565.5 1556,2565.7 1558.6,2564.1 1561.2,2562.5 1563.8,2564.5 1566.4,2562.5 1569,2561.4 1571.6,2561.8 1574.2,2568 1576.8,2564.2 1579.4,2567.7 1582,2561.1 1584.6,2565.7 1587.2,2565.1 1589.8,2564.2 1592.4,2564.6 1595,2562.9 1597.6,2556.7 1600.2,2558.8 1602.8,2565.8 1605.4,2562.1 1608,2560.7 1610.6,2559.8 1613.2,2565.4 1615.8,2568 1618.4,2562.2 1621,2562.1 1623.6,2558 1626.2,2561.5 1628.8,2563.4 1631.4,2558.3 1634,2562.4 1636.6,2562.2 1639.2,2568.4 1641.8,2558.6 1644.4,2562.4 1647,2563 1649.6,2559.9 1652.2,2563 1654.8,2561.2 1657.4,2558.9 1660,2562.1 1662.6,2561.9 1665.2,2561.4 1667.8,2557.1 1670.4,2566.2 1673,2564.9 1675.6,2563.5 1678.2,2560.4 1680.8,2561.9 1683.4,2558.1 1686,2560.1 1688.6,2560.5 1691.2,2562.8 1693.8,2564.5 1696.4,2563.3 1699,2560.9 1701.6,2557.8 1704.2,2560.7 1706.8,2563.1 1709.4,2564.2 1712,2553 1714.6,2558.9 1717.2,2557.9 1719.8,2560.9 1722.4,2561 1725,2561.8 1727.6,2558.4 1730.2,2560.8 1732.8,2566.6 1735.4,2562.6 1738,2564 1740.6,2563.3 1743.2,2562.3 1745.8,2561.3 1748.4,2561.4 1751,2555.5 1753.6,2559.5 1756.2,2564.9 1758.8,2567.1 1761.4,2558.1 1764,2553.8 1766.6,2556 1769.2,2562.6 1771.8,2562.7 1774.4,2560.3 1777,2557.8 1779.6,2550.3 1782.2,2555.8 1784.8,2562.4 1787.4,2566.3 1790,2559.7 1792.6,2553.9 1795.2,2566 1797.8,2563.9 1800.4,2560.3 1803,2554.3 1805.6,2564.6 1808.2,2564.1 1810.8,2562.7 1813.4,2559.3 1816,2556.8 1818.6,2556 1821.2,2561.9 1823.8,2562.6 1826.4,2560.6 1829,2560 1831.6,2558 1833.4,2562.7" fill="none" stroke="#000" stroke-width="2.0" stroke-linejoin="round" />
</g>
<rect x="1275" y="1534.5" width="478.5" height="286.5" fill="#fff" stroke="#000" stroke-width="2"/>
<line x1="1285.5" y1="1570" x2="1416" y2="1570" stroke="#008080" stroke-width="2.3" stroke-linecap="round"/>
<text x="1430.5" y="1589" font-size="59" text-anchor="start" >M-3</text>
<line x1="1285.5" y1="1643.2" x2="1416" y2="1643.2" stroke="#0000ff" stroke-width="2.3" stroke-linecap="round"/>
<text x="1430.5" y="1662.2" font-size="59" text-anchor="start" >M-2</text>
<line x1="1285.5" y1="1716.4" x2="1416" y2="1716.4" stroke="#ff0000" stroke-width="2.3" stroke-linecap="round"/>
<text x="1430.5" y="1735.4" font-size="59" text-anchor="start" >M-1</text>
<line x1="1285.5" y1="1789.6" x2="1416" y2="1789.6" stroke="#000" stroke-width="2.3" stroke-linecap="round"/>
<text x="1430.5" y="1808.6" font-size="59" text-anchor="start" >PSf Substrate</text>
<text x="48" y="1539" font-size="59" text-anchor="start" >(b)</text>
<text x="746" y="2911" font-size="59" text-anchor="start" >Binding Energy (eV)</text>
<text x="431.5" y="1731" font-size="59" text-anchor="start" >C 1s</text>
<text x="774.5" y="1787.5" font-size="59" text-anchor="start" >N 1s</text>
<text x="1139.5" y="1781" font-size="59" text-anchor="start" >O 1s</text>
<text x="495" y="1978.5" font-size="59" text-anchor="start" >C 1s</text>
<text x="787.5" y="1972.5" font-size="59" text-anchor="start" >N 1s</text>
<text x="1099.5" y="1978.5" font-size="59" text-anchor="start" >O 1s</text>
<text x="515" y="2155.5" font-size="59" text-anchor="start" >C 1s</text>
<text x="829.5" y="2170.5" font-size="59" text-anchor="start" >N 1s</text>
<text x="1177" y="2188" font-size="59" text-anchor="start" >O 1s</text>
<text x="261.5" y="2448" font-size="59" text-anchor="start" >S 2p</text>
<text x="378.5" y="2436.5" font-size="59" text-anchor="start" >S 2p</text>
<text x="808.5" y="2447" font-size="59" text-anchor="start" >N 1s</text>
<text x="1084.5" y="2435.5" font-size="59" text-anchor="start" >O 1s</text>
<line x1="425" y1="1796" x2="479.3" y2="1754.7" stroke="#000" stroke-width="2.0" /><polygon points="504,1736 482.7,1762.5 472.7,1749.4" fill="#000"/>
<line x1="798.5" y1="1877.5" x2="831.1" y2="1818.2" stroke="#000" stroke-width="2.0" /><polygon points="846,1791 837.3,1823.9 822.9,1816" fill="#000"/>
<line x1="1097" y1="1871" x2="1129" y2="1810.9" stroke="#000" stroke-width="2.0" /><polygon points="1143.5,1783.5 1135.3,1816.5 1120.7,1808.8" fill="#000"/>
<line x1="450" y1="2056" x2="501.3" y2="2017.2" stroke="#000" stroke-width="2.0" /><polygon points="526,1998.5 504.7,2025 494.7,2011.8" fill="#000"/>
<line x1="783.5" y1="2076" x2="815.3" y2="2021.7" stroke="#000" stroke-width="2.0" /><polygon points="831,1995 821.4,2027.6 807.2,2019.3" fill="#000"/>
<line x1="1076" y1="2081" x2="1107.8" y2="2022.3" stroke="#000" stroke-width="2.0" /><polygon points="1122.5,1995 1114.1,2028 1099.5,2020.1" fill="#000"/>
<line x1="447.5" y1="2228" x2="497.9" y2="2189.4" stroke="#000" stroke-width="2.0" /><polygon points="522.5,2170.5 501.3,2197.1 491.3,2184" fill="#000"/>
<line x1="782" y1="2248" x2="813.6" y2="2190.2" stroke="#000" stroke-width="2.0" /><polygon points="828.5,2163 819.9,2195.9 805.4,2188" fill="#000"/>
<line x1="1084.5" y1="2238" x2="1117.6" y2="2177.7" stroke="#000" stroke-width="2.0" /><polygon points="1132.5,2150.5 1123.9,2183.4 1109.4,2175.5" fill="#000"/>
<line x1="197.5" y1="2509.5" x2="249.2" y2="2470.6" stroke="#000" stroke-width="2.0" /><polygon points="274,2452 252.6,2478.4 242.7,2465.2" fill="#000"/>
<line x1="365" y1="2499" x2="417.8" y2="2459.2" stroke="#000" stroke-width="2.0" /><polygon points="442.5,2440.5 421.1,2467 411.2,2453.8" fill="#000"/>
<line x1="452.5" y1="2532.5" x2="505.9" y2="2493.7" stroke="#000" stroke-width="2.0" /><polygon points="531,2475.5 509.1,2501.6 499.4,2488.2" fill="#000"/>
<line x1="792" y1="2555" x2="825" y2="2495.1" stroke="#000" stroke-width="2.0" /><polygon points="840,2468 831.3,2500.9 816.8,2492.9" fill="#000"/>
<line x1="1087" y1="2537.5" x2="1119.1" y2="2476.4" stroke="#000" stroke-width="2.0" /><polygon points="1133.5,2449 1125.5,2482.1 1110.8,2474.4" fill="#000"/>
<text x="974.5" y="1586.5" font-size="48.3" text-anchor="start" font-weight="bold" >C 84.59 at%</text>
<text x="974.5" y="1645" font-size="48.3" text-anchor="start" font-weight="bold" >N 2.44 at%</text>
<text x="974.5" y="1705" font-size="48.3" text-anchor="start" font-weight="bold" >O 12.97 at%</text>
<text x="1244" y="1941" font-size="48.3" text-anchor="start" font-weight="bold" >C 84.05 at%</text>
<text x="1244" y="2001" font-size="48.3" text-anchor="start" font-weight="bold" >N 1.49 at%</text>
<text x="1244" y="2060" font-size="48.3" text-anchor="start" font-weight="bold" >O 14.46 at%</text>
<text x="1350.5" y="2140.5" font-size="48.3" text-anchor="start" font-weight="bold" >C 83.27 at%</text>
<text x="1350.5" y="2200.5" font-size="48.3" text-anchor="start" font-weight="bold" >N 1.24 at%</text>
<text x="1350.5" y="2260.5" font-size="48.3" text-anchor="start" font-weight="bold" >O 15.49 at%</text>
<text x="1345.5" y="2338" font-size="48.3" text-anchor="start" font-weight="bold" >C 84.19 at%</text>
<text x="1345.5" y="2404.5" font-size="48.3" text-anchor="start" font-weight="bold" >N 0 at%</text>
<text x="1345.5" y="2470.5" font-size="48.3" text-anchor="start" font-weight="bold" >O 13.46 at%</text>
<text x="1345.5" y="2537.5" font-size="48.3" text-anchor="start" font-weight="bold" >S&#160; 2.35 at%</text>
</g>
<g id="chartC">
<text x="303.7" y="4237.5" font-size="59" text-anchor="middle" >290</text>
<line x1="534.8" y1="4166.4" x2="534.8" y2="4154" stroke="#000" stroke-width="4.8" stroke-linecap="round"/>
<line x1="764.9" y1="4166.4" x2="764.9" y2="4143" stroke="#000" stroke-width="4.8" stroke-linecap="round"/>
<text x="763.9" y="4237.5" font-size="59" text-anchor="middle" >288</text>
<line x1="995" y1="4166.4" x2="995" y2="4154" stroke="#000" stroke-width="4.8" stroke-linecap="round"/>
<line x1="1225.1" y1="4166.4" x2="1225.1" y2="4143" stroke="#000" stroke-width="4.8" stroke-linecap="round"/>
<text x="1224.1" y="4237.5" font-size="59" text-anchor="middle" >286</text>
<line x1="1455.2" y1="4166.4" x2="1455.2" y2="4154" stroke="#000" stroke-width="4.8" stroke-linecap="round"/>
<line x1="1685.2" y1="4166.4" x2="1685.2" y2="4143" stroke="#000" stroke-width="4.8" stroke-linecap="round"/>
<text x="1684.2" y="4237.5" font-size="59" text-anchor="middle" >284</text>
<line x1="305.3" y1="4092.4" x2="329.7" y2="4092.4" stroke="#000" stroke-width="4.8" stroke-linecap="round"/>
<text x="278" y="4108.4" font-size="59" text-anchor="end" >0</text>
<line x1="305.3" y1="4017.8" x2="317.7" y2="4017.8" stroke="#000" stroke-width="4.8" stroke-linecap="round"/>
<line x1="305.3" y1="3943.2" x2="329.7" y2="3943.2" stroke="#000" stroke-width="4.8" stroke-linecap="round"/>
<text x="278" y="3959.2" font-size="59" text-anchor="end" >1000</text>
<line x1="305.3" y1="3868.6" x2="317.7" y2="3868.6" stroke="#000" stroke-width="4.8" stroke-linecap="round"/>
<line x1="305.3" y1="3794.1" x2="329.7" y2="3794.1" stroke="#000" stroke-width="4.8" stroke-linecap="round"/>
<text x="278" y="3810.1" font-size="59" text-anchor="end" >2000</text>
<line x1="305.3" y1="3719.5" x2="317.7" y2="3719.5" stroke="#000" stroke-width="4.8" stroke-linecap="round"/>
<line x1="305.3" y1="3644.9" x2="329.7" y2="3644.9" stroke="#000" stroke-width="4.8" stroke-linecap="round"/>
<text x="278" y="3660.9" font-size="59" text-anchor="end" >3000</text>
<line x1="305.3" y1="3570.3" x2="317.7" y2="3570.3" stroke="#000" stroke-width="4.8" stroke-linecap="round"/>
<line x1="305.3" y1="3495.7" x2="329.7" y2="3495.7" stroke="#000" stroke-width="4.8" stroke-linecap="round"/>
<text x="278" y="3511.7" font-size="59" text-anchor="end" >4000</text>
<line x1="305.3" y1="3421.1" x2="317.7" y2="3421.1" stroke="#000" stroke-width="4.8" stroke-linecap="round"/>
<line x1="305.3" y1="3346.5" x2="329.7" y2="3346.5" stroke="#000" stroke-width="4.8" stroke-linecap="round"/>
<text x="278" y="3362.5" font-size="59" text-anchor="end" >5000</text>
<line x1="305.3" y1="3271.9" x2="317.7" y2="3271.9" stroke="#000" stroke-width="4.8" stroke-linecap="round"/>
<line x1="305.3" y1="3197.4" x2="329.7" y2="3197.4" stroke="#000" stroke-width="4.8" stroke-linecap="round"/>
<text x="278" y="3213.4" font-size="59" text-anchor="end" >6000</text>
<line x1="305.3" y1="3122.8" x2="317.7" y2="3122.8" stroke="#000" stroke-width="4.8" stroke-linecap="round"/>
<line x1="305.3" y1="3048.2" x2="329.7" y2="3048.2" stroke="#000" stroke-width="4.8" stroke-linecap="round"/>
<text x="278" y="3064.2" font-size="59" text-anchor="end" >7000</text>
<rect x="304.7" y="2973.6" width="1610.6" height="1193.4" fill="none" stroke="#000" stroke-width="4.8" stroke-linejoin="round"/>
<clipPath id="clipC"><rect x="304.7" y="2973.6" width="1610.6" height="1193.4"/></clipPath>
<g clip-path="url(#clipC)">
<polyline points="799.4,4033 810.9,4032.8 822.4,4032.4 834,4031.9 845.5,4031.1 857,4030 868.5,4028.5 880,4026.3 891.5,4023.4 903,4019.6 914.5,4014.4 926,4007.6 937.5,3998.9 949,3987.8 960.6,3973.9 972.1,3956.8 983.6,3936.5 995.1,3913.4 1006.6,3887.2 1018.1,3857.6 1029.6,3824.2 1041.1,3786.5 1052.6,3744.2 1064.2,3696.8 1075.7,3644.3 1087.2,3586.9 1098.7,3525.2 1110.2,3460.6 1121.7,3395.6 1133.2,3333.4 1144.7,3276.1 1156.2,3225.7 1167.7,3184.3 1179.2,3153.6 1190.8,3134.7 1202.3,3128.5 1213.8,3135.3 1225.3,3154.7 1236.8,3186.1 1248.3,3227.9 1259.8,3278.6 1271.3,3336.2 1282.8,3398.7 1294.3,3463.7 1305.9,3527.6 1317.4,3587.7 1328.9,3642.8 1340.4,3692.6 1351.9,3737.1 1363.4,3776.9 1374.9,3812.4 1386.4,3844.2 1397.9,3872.9 1409.5,3899 1421,3922.8 1432.5,3944.5 1444,3963.3 1455.5,3978.8 1467,3991.4 1478.5,4001.4 1490,4009.3 1501.5,4015.5 1513,4020.3 1524.5,4023.9 1536.1,4026.6 1547.6,4028.6 1559.1,4030 1570.6,4031.1 1582.1,4031.9 1593.6,4032.4 1605.1,4032.8 1616.6,4033" fill="none" stroke="#000" stroke-width="2.0" stroke-linejoin="round" />
<polyline points="1029.6,4033.1 1041.1,4032.8 1052.6,4032.5 1064.2,4032.1 1075.7,4031.5 1087.2,4030.6 1098.7,4029.4 1110.2,4027.9 1121.7,4025.8 1133.2,4023.1 1144.7,4019.6 1156.2,4015.2 1167.7,4009.7 1179.2,4003.1 1190.8,3995.4 1202.3,3986.6 1213.8,3976.4 1225.3,3964.9 1236.8,3951.7 1248.3,3937 1259.8,3920.4 1271.3,3902.1 1282.8,3882.1 1294.3,3860.7 1305.9,3838.3 1317.4,3815.7 1328.9,3793.9 1340.4,3773.7 1351.9,3755.8 1363.4,3740.9 1374.9,3729.6 1386.4,3722.4 1397.9,3719.5 1409.5,3721.2 1421,3727.2 1432.5,3737.5 1444,3751.5 1455.5,3768.6 1467,3788.3 1478.5,3809.7 1490,3832.2 1501.5,3854.7 1513,3876.5 1524.5,3896.9 1536.1,3915.6 1547.6,3932.7 1559.1,3947.9 1570.6,3961.5 1582.1,3973.4 1593.6,3983.9 1605.1,3993.1 1616.6,4001.1 1628.1,4008 1639.7,4013.9 1651.2,4018.5 1662.7,4022.2 1674.2,4025.1 1685.7,4027.4 1697.2,4029.1 1708.7,4030.3 1720.2,4031.3 1731.7,4031.9 1743.2,4032.4 1754.8,4032.8 1766.3,4033" fill="none" stroke="#ff0000" stroke-width="2.0" stroke-linejoin="round" />
<polyline points="442.6,4033.1 454.1,4032.9 465.6,4032.7 477.1,4032.3 488.6,4031.9 500.2,4031.4 511.7,4030.8 523.2,4030 534.7,4029.1 546.2,4028 557.7,4026.7 569.2,4025.3 580.7,4023.8 592.2,4022.1 603.8,4020.4 615.3,4018.6 626.8,4016.8 638.3,4015.2 649.8,4013.6 661.3,4012.3 672.8,4011.2 684.3,4010.5 695.8,4010.1 707.3,4010 718.9,4010.3 730.4,4011 741.9,4012 753.4,4013.3 764.9,4014.8 776.4,4016.4 787.9,4018.2 799.4,4019.9 810.9,4021.7 822.4,4023.4 834,4025 845.5,4026.4 857,4027.7 868.5,4028.8 880,4029.8 891.5,4030.6 903,4031.3 914.5,4031.8 926,4032.3 937.5,4032.6 949,4032.8 960.6,4033" fill="none" stroke="#0000ff" stroke-width="2.0" stroke-linejoin="round" />
<polyline points="661.3,4033 672.8,4032.8 684.3,4032.5 695.8,4032.1 707.3,4031.6 718.9,4031 730.4,4030.2 741.9,4029.2 753.4,4028 764.9,4026.5 776.4,4024.9 787.9,4022.9 799.4,4020.8 810.9,4018.4 822.4,4015.9 834,4013.2 845.5,4010.5 857,4007.8 868.5,4005.3 880,4003 891.5,4001 903,3999.4 914.5,3998.2 926,3997.6 937.5,3997.5 949,3998 960.6,3999 972.1,4000.5 983.6,4002.4 995.1,4004.6 1006.6,4007.1 1018.1,4009.7 1029.6,4012.4 1041.1,4015.1 1052.6,4017.7 1064.2,4020.1 1075.7,4022.3 1087.2,4024.3 1098.7,4026.1 1110.2,4027.6 1121.7,4028.9 1133.2,4029.9 1144.7,4030.8 1156.2,4031.5 1167.7,4032 1179.2,4032.4 1190.8,4032.7 1202.3,4032.9 1213.8,4033.1" fill="none" stroke="#008080" stroke-width="2.0" stroke-linejoin="round" />
<line x1="304.7" y1="4033.5" x2="1915.3" y2="4033.5" stroke="#ff00ff" stroke-width="2.2" />
<path d="M316 4019.5V4047.5M327.5 4019.5V4047.5M339 4019.5V4047.5M350.5 4019.5V4047.5M362 4019.5V4047.5M373.6 4019.5V4047.5M385.1 4019.5V4047.5M396.6 4019.5V4047.5M408.1 4019.5V4047.5M419.6 4019.5V4047.5M431.1 4019.5V4047.5M442.6 4019.5V4047.5M454.1 4019.5V4047.5M465.6 4018.9V4046.9M477.1 4018V4046M488.6 4016.9V4044.9M500.2 4016V4044M511.7 4015.2V4043.2M523.2 4014.4V4042.4M534.7 4013.6V4041.6M546.2 4012.8V4040.8M557.7 4012V4040M569.2 4011.1V4039.1M580.7 4009.1V4037.1M592.2 4007.6V4035.6M603.8 4006.1V4034.1M615.3 4004.6V4032.6M626.8 4002.6V4030.6M638.3 4001.1V4029.1M649.8 3999.1V4027.1M661.3 3997.6V4025.6M672.8 3996.1V4024.1M684.3 3994.6V4022.6M695.8 3993V4021M707.3 3992.7V4020.7M718.8 3992.5V4020.5M730.4 3992V4020M741.9 3991.5V4019.5M753.4 3991.2V4019.2M764.9 3991V4019M776.4 3991V4019M787.9 3990V4018M799.4 3989.5V4017.5M810.9 3988.6V4016.6M822.4 3987.6V4015.6M834 3986.1V4014.1M845.5 3983.6V4011.6M857 3981.1V4009.1M868.5 3978.6V4006.6M880 3975.2V4003.2M891.5 3971.2V3999.2M903 3967.2V3995.2M914.5 3962.2V3990.2M926 3956.3V3984.3M937.5 3948.8V3976.8M949 3940.8V3968.8M960.6 3929.5V3957.5M972.1 3916.2V3944.2M983.6 3899.9V3927.9M995.1 3880.2V3908.2M1006.6 3855.5V3883.5M1018.1 3828.8V3856.8M1029.6 3796.7V3824.7M1041.1 3758.1V3786.1M1052.6 3714.9V3742.9M1064.2 3667.7V3695.7M1075.7 3614.1V3642.1M1087.2 3555.7V3583.7M1098.7 3498V3526M1110.2 3433.4V3461.4M1121.7 3369V3397M1133.2 3308.6V3336.6M1144.7 3250.3V3278.3M1156.2 3194.4V3222.4M1167.7 3146.7V3174.7M1179.2 3111.5V3139.5M1190.8 3083.4V3111.4M1202.3 3067.9V3095.9M1213.8 3064V3092M1225.3 3071.3V3099.3M1236.8 3089.6V3117.6M1248.3 3116.3V3144.3M1259.8 3149.5V3177.5M1271.3 3186.6V3214.6M1282.8 3225.4V3253.4M1294.3 3267.5V3295.5M1305.9 3308V3336M1317.4 3348.6V3376.6M1328.9 3387.2V3415.2M1340.4 3421.6V3449.6M1351.9 3454.1V3482.1M1363.4 3484.6V3512.6M1374.9 3513.5V3541.5M1386.4 3541V3569M1397.9 3569.1V3597.1M1409.5 3596.6V3624.6M1421 3624.6V3652.6M1432.5 3652.7V3680.7M1444 3681.7V3709.7M1455.5 3711.3V3739.3M1467 3740.7V3768.7M1478.5 3768.7V3796.7M1490 3796.2V3824.2M1501.5 3821.7V3849.7M1513 3848.7V3876.7M1524.5 3871.5V3899.5M1536.1 3892.1V3920.1M1547.6 3912.1V3940.1M1559.1 3929.1V3957.1M1570.6 3944.6V3972.6M1582.1 3957.6V3985.6M1593.6 3968.6V3996.6M1605.1 3977.6V4005.6M1616.6 3985.6V4013.6M1628.1 3992.1V4020.1M1639.6 3997.6V4025.6M1651.2 4002.1V4030.1M1662.7 4006V4034M1674.2 4008.5V4036.5M1685.7 4011V4039M1697.2 4012.5V4040.5M1708.7 4013.5V4041.5M1720.2 4015V4043M1731.7 4016V4044M1743.2 4016.7V4044.7M1754.8 4017.2V4045.2M1766.3 4017.5V4045.5M1777.8 4017.5V4045.5M1789.3 4017.5V4045.5M1800.8 4017.5V4045.5M1812.3 4017.5V4045.5M1823.8 4017.5V4045.5M1835.3 4017.5V4045.5M1846.8 4017.5V4045.5M1858.3 4017.5V4045.5M1869.8 4017.5V4045.5M1881.4 4017.5V4045.5M1892.9 4017.5V4045.5M1904.4 4017.5V4045.5" stroke="#000" stroke-width="2.2" fill="none"/>
</g>
<rect x="464.3" y="3058.5" width="436" height="437.3" fill="#fff" stroke="#000" stroke-width="2"/>
<line x1="489.5" y1="3099" x2="619" y2="3099" stroke="#000" stroke-width="2.3" stroke-linecap="round"/>
<text x="633.5" y="3118" font-size="59" text-anchor="start" >C-N,C-O</text>
<line x1="489.5" y1="3171.8" x2="619" y2="3171.8" stroke="#ff0000" stroke-width="2.3" stroke-linecap="round"/>
<text x="633.5" y="3190.8" font-size="59" text-anchor="start" >C-C</text>
<line x1="489.5" y1="3244.6" x2="619" y2="3244.6" stroke="#0000ff" stroke-width="2.3" stroke-linecap="round"/>
<text x="633.5" y="3263.6" font-size="59" text-anchor="start" >O=C-O</text>
<line x1="489.5" y1="3317.4" x2="619" y2="3317.4" stroke="#008080" stroke-width="2.3" stroke-linecap="round"/>
<text x="633.5" y="3336.4" font-size="59" text-anchor="start" >O=C-N</text>
<line x1="489.5" y1="3390.2" x2="619" y2="3390.2" stroke="#ff00ff" stroke-width="2.3" stroke-linecap="round"/>
<text x="633.5" y="3409.2" font-size="59" text-anchor="start" >Baseline</text>
<line x1="554" y1="3448.5" x2="554" y2="3477.5" stroke="#000" stroke-width="2.2" />
<text x="633.5" y="3482" font-size="59" text-anchor="start" >Main Peak</text>
<text x="77.5" y="3025" font-size="59" text-anchor="start" >(c)</text>
<text x="1588" y="3167" font-size="59" text-anchor="start" >M-2</text>
<text transform="translate(72.5 3574) rotate(-90)" font-size="59" text-anchor="middle">Counts</text>
<text x="862.5" y="4337" font-size="59" text-anchor="start" >Binding Energy (eV)</text>
</g>
</svg>
</body>
</html>
